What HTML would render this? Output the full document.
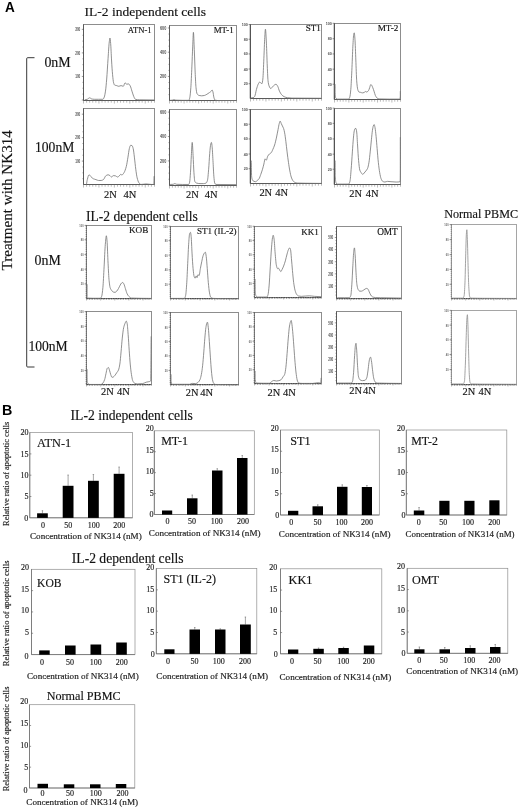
<!DOCTYPE html>
<html><head><meta charset="utf-8"><title>Figure</title>
<style>html,body{margin:0;padding:0;background:#fff}svg{display:block}</style></head>
<body>
<svg width="520" height="809" viewBox="0 0 520 809">
<rect width="520" height="809" fill="#fff"/>
<g font-family='"Liberation Serif", serif' stroke="#222" stroke-width="0.16">
<g id="partA">
<rect x="83.50" y="24.50" width="71.00" height="76.00" fill="#fff" stroke="#828282" stroke-width="0.9"/>
<path d="M83.50,24.50V100.50" stroke="#555" stroke-width="0.9" fill="none"/>
<path d="M81.80,29.37h1.70M82.50,35.25h1.00M82.50,41.13h1.00M82.50,47.02h1.00M81.80,52.90h1.70M82.50,58.79h1.00M82.50,64.67h1.00M82.50,70.56h1.00M81.80,76.44h1.70M82.50,82.33h1.00M82.50,88.21h1.00M82.50,94.10h1.00M81.80,99.98h1.70" stroke="#484848" stroke-width="0.55" fill="none"/>
<path d="M83.50,100.50H154.50" stroke="#555" stroke-width="0.9" fill="none"/>
<path d="M83.50,100.50v3.00M86.59,100.50v2.20M89.67,100.50v2.20M92.76,100.50v2.20M95.85,100.50v2.20M98.93,100.50v3.00M102.02,100.50v2.20M105.11,100.50v2.20M108.20,100.50v2.20M111.28,100.50v2.20M114.37,100.50v3.00M117.46,100.50v2.20M120.54,100.50v2.20M123.63,100.50v2.20M126.72,100.50v2.20M129.80,100.50v3.00M132.89,100.50v2.20M135.98,100.50v2.20M139.07,100.50v2.20M142.15,100.50v2.20M145.24,100.50v3.00M148.33,100.50v2.20M151.41,100.50v2.20M154.50,100.50v2.20" stroke="#666" stroke-width="0.45" fill="none"/>
<path d="M84.71,99.81 C85.58,99.63 86.44,99.58 87.31,99.29 C87.77,99.13 88.23,98.50 88.69,98.25 C89.10,98.03 89.50,97.73 89.90,97.73 C90.31,97.73 90.71,98.64 91.12,98.77 C92.15,99.09 93.19,99.29 94.23,99.29 C95.67,99.29 97.12,99.29 98.56,99.29 C100.00,99.29 101.44,99.29 102.88,99.29 C103.35,99.29 103.81,98.18 104.27,97.04 C104.67,96.04 105.08,93.79 105.48,91.15 C105.88,88.51 106.29,83.86 106.69,79.04 C107.15,73.52 107.62,64.84 108.08,58.27 C108.48,52.52 108.88,44.87 109.29,41.83 C109.52,40.09 109.75,38.02 109.98,38.02 C110.21,38.02 110.44,41.00 110.67,43.56 C110.96,46.76 111.25,55.30 111.54,60.00 C111.88,65.64 112.23,71.22 112.58,74.71 C112.92,78.20 113.27,81.67 113.62,82.85 C113.96,84.02 114.31,84.93 114.65,85.10 C115.35,85.44 116.04,85.42 116.73,85.62 C117.42,85.81 118.12,86.31 118.81,86.31 C119.56,86.31 120.31,85.62 121.06,85.62 C121.81,85.62 122.56,86.31 123.31,86.31 C123.88,86.31 124.46,82.85 125.04,82.85 C125.62,82.85 126.19,84.23 126.77,84.23 C127.35,84.23 127.92,83.88 128.50,83.88 C129.08,83.88 129.65,84.97 130.23,85.96 C130.81,86.95 131.38,89.42 131.96,91.15 C132.54,92.88 133.12,95.09 133.69,96.35 C134.27,97.60 134.85,99.13 135.42,99.29 C136.69,99.65 137.96,99.78 139.23,99.81 C144.25,99.94 149.28,99.92 154.30,99.98" stroke="#747474" stroke-width="0.8" fill="none" stroke-linejoin="round"/>
<text x="80.30" y="31.17" font-size="5.0" text-anchor="end" font-family='"Liberation Sans", sans-serif' font-weight="bold" fill="#505050" stroke="none" textLength="5.10" lengthAdjust="spacingAndGlyphs">300</text>
<text x="80.30" y="54.88" font-size="5.0" text-anchor="end" font-family='"Liberation Sans", sans-serif' font-weight="bold" fill="#505050" stroke="none" textLength="5.10" lengthAdjust="spacingAndGlyphs">200</text>
<text x="80.30" y="78.24" font-size="5.0" text-anchor="end" font-family='"Liberation Sans", sans-serif' font-weight="bold" fill="#505050" stroke="none" textLength="5.10" lengthAdjust="spacingAndGlyphs">100</text>
<rect x="83.50" y="108.50" width="71.00" height="76.00" fill="#fff" stroke="#828282" stroke-width="0.9"/>
<path d="M83.50,108.50V184.50" stroke="#555" stroke-width="0.9" fill="none"/>
<path d="M81.80,114.19h1.70M82.50,120.06h1.00M82.50,125.92h1.00M82.50,131.78h1.00M81.80,137.64h1.70M82.50,143.51h1.00M82.50,149.37h1.00M82.50,155.23h1.00M81.80,161.10h1.70M82.50,166.96h1.00M82.50,172.82h1.00M82.50,178.69h1.00" stroke="#484848" stroke-width="0.55" fill="none"/>
<path d="M83.50,184.50H154.50" stroke="#555" stroke-width="0.9" fill="none"/>
<path d="M83.50,184.50v3.00M86.59,184.50v2.20M89.67,184.50v2.20M92.76,184.50v2.20M95.85,184.50v2.20M98.93,184.50v3.00M102.02,184.50v2.20M105.11,184.50v2.20M108.20,184.50v2.20M111.28,184.50v2.20M114.37,184.50v3.00M117.46,184.50v2.20M120.54,184.50v2.20M123.63,184.50v2.20M126.72,184.50v2.20M129.80,184.50v3.00M132.89,184.50v2.20M135.98,184.50v2.20M139.07,184.50v2.20M142.15,184.50v2.20M145.24,184.50v3.00M148.33,184.50v2.20M151.41,184.50v2.20M154.50,184.50v2.20" stroke="#666" stroke-width="0.45" fill="none"/>
<path d="M86.44,184.46 C86.73,182.85 87.02,180.73 87.31,179.62 C87.88,177.38 88.46,174.77 89.04,174.77 C89.62,174.77 90.19,175.96 90.77,176.50 C91.63,177.31 92.50,178.33 93.37,178.75 C94.23,179.17 95.10,179.33 95.96,179.62 C96.83,179.90 97.69,180.48 98.56,180.48 C99.42,180.48 100.29,180.48 101.15,180.48 C102.02,180.48 102.88,179.94 103.75,179.27 C104.33,178.82 104.90,176.65 105.48,176.15 C106.35,175.42 107.21,174.77 108.08,174.77 C108.77,174.77 109.46,175.36 110.15,175.81 C110.62,176.11 111.08,177.02 111.54,177.02 C112.12,177.02 112.69,175.63 113.27,175.63 C113.96,175.63 114.65,175.71 115.35,175.81 C116.10,175.91 116.85,177.02 117.60,177.02 C118.17,177.02 118.75,176.32 119.33,175.81 C119.73,175.45 120.13,174.42 120.54,174.42 C121.00,174.42 121.46,174.94 121.92,174.94 C122.62,174.94 123.31,173.76 124.00,172.69 C124.75,171.54 125.50,169.39 126.25,166.63 C126.83,164.52 127.40,160.50 127.98,157.12 C128.44,154.41 128.90,150.13 129.37,148.46 C129.77,147.00 130.17,145.35 130.58,145.35 C131.04,145.35 131.50,145.41 131.96,145.52 C132.37,145.62 132.77,147.00 133.17,148.46 C133.58,149.93 133.98,153.95 134.38,157.12 C134.85,160.74 135.31,165.87 135.77,169.23 C136.23,172.60 136.69,176.07 137.15,177.88 C137.73,180.15 138.31,181.98 138.88,182.73 C139.58,183.63 140.27,184.46 140.96,184.46 C142.69,184.46 144.42,183.94 146.15,183.94 C147.88,183.94 149.62,184.46 151.35,184.46 C152.21,184.46 153.08,184.46 153.94,184.46 C154.06,184.46 154.17,176.15 154.29,176.15 C154.29,176.15 154.30,181.69 154.30,184.46" stroke="#747474" stroke-width="0.8" fill="none" stroke-linejoin="round"/>
<text x="80.30" y="115.99" font-size="5.0" text-anchor="end" font-family='"Liberation Sans", sans-serif' font-weight="bold" fill="#505050" stroke="none" textLength="5.10" lengthAdjust="spacingAndGlyphs">300</text>
<text x="80.30" y="139.36" font-size="5.0" text-anchor="end" font-family='"Liberation Sans", sans-serif' font-weight="bold" fill="#505050" stroke="none" textLength="5.10" lengthAdjust="spacingAndGlyphs">200</text>
<text x="80.30" y="162.90" font-size="5.0" text-anchor="end" font-family='"Liberation Sans", sans-serif' font-weight="bold" fill="#505050" stroke="none" textLength="5.10" lengthAdjust="spacingAndGlyphs">100</text>
<rect x="169.50" y="25.50" width="67.00" height="75.00" fill="#fff" stroke="#828282" stroke-width="0.9"/>
<path d="M169.50,25.50V100.50" stroke="#555" stroke-width="0.9" fill="none"/>
<path d="M167.80,27.98h1.70M168.50,34.04h1.00M168.50,40.10h1.00M168.50,46.15h1.00M167.80,52.21h1.70M168.50,58.27h1.00M168.50,64.33h1.00M168.50,70.38h1.00M167.80,76.44h1.70M168.50,82.50h1.00M168.50,88.56h1.00M168.50,94.62h1.00" stroke="#484848" stroke-width="0.55" fill="none"/>
<path d="M169.50,100.50H236.50" stroke="#555" stroke-width="0.9" fill="none"/>
<path d="M169.50,100.50v3.00M172.41,100.50v2.20M175.33,100.50v2.20M178.24,100.50v2.20M181.15,100.50v2.20M184.07,100.50v3.00M186.98,100.50v2.20M189.89,100.50v2.20M192.80,100.50v2.20M195.72,100.50v2.20M198.63,100.50v3.00M201.54,100.50v2.20M204.46,100.50v2.20M207.37,100.50v2.20M210.28,100.50v2.20M213.20,100.50v3.00M216.11,100.50v2.20M219.02,100.50v2.20M221.93,100.50v2.20M224.85,100.50v2.20M227.76,100.50v3.00M230.67,100.50v2.20M233.59,100.50v2.20M236.50,100.50v2.20" stroke="#666" stroke-width="0.45" fill="none"/>
<path d="M170.10,100.33 C170.84,100.27 171.57,100.25 172.31,100.15 C172.88,100.08 173.46,99.63 174.04,99.63 C174.62,99.63 175.19,100.12 175.77,100.15 C178.08,100.28 180.38,100.33 182.69,100.33 C184.71,100.33 186.73,100.33 188.75,100.33 C189.10,100.33 189.44,99.11 189.79,97.73 C190.13,96.36 190.48,92.20 190.83,87.69 C191.17,83.18 191.52,74.50 191.87,66.92 C192.15,60.61 192.44,52.43 192.73,46.15 C192.96,41.14 193.19,32.31 193.42,32.31 C193.71,32.31 194.00,43.09 194.29,49.62 C194.58,56.14 194.87,65.98 195.15,72.12 C195.44,78.25 195.73,85.11 196.02,87.69 C196.37,90.79 196.71,93.20 197.06,93.75 C197.75,94.85 198.44,95.32 199.13,95.48 C200.00,95.69 200.87,95.83 201.73,95.83 C202.60,95.83 203.46,95.66 204.33,95.48 C205.19,95.30 206.06,94.74 206.92,94.27 C207.79,93.79 208.65,93.17 209.52,92.54 C210.10,92.12 210.67,91.76 211.25,91.15 C211.54,90.85 211.83,89.94 212.12,89.94 C212.40,89.94 212.69,91.03 212.98,92.02 C213.27,93.01 213.56,96.19 213.85,97.21 C214.25,98.64 214.65,100.03 215.06,100.15 C215.81,100.39 216.56,100.50 217.31,100.50 C223.54,100.50 229.77,100.50 236.00,100.50" stroke="#747474" stroke-width="0.8" fill="none" stroke-linejoin="round"/>
<text x="166.30" y="29.78" font-size="5.0" text-anchor="end" font-family='"Liberation Sans", sans-serif' font-weight="bold" fill="#505050" stroke="none" textLength="6.30" lengthAdjust="spacingAndGlyphs">600</text>
<text x="166.30" y="54.01" font-size="5.0" text-anchor="end" font-family='"Liberation Sans", sans-serif' font-weight="bold" fill="#505050" stroke="none" textLength="6.30" lengthAdjust="spacingAndGlyphs">400</text>
<text x="166.30" y="78.24" font-size="5.0" text-anchor="end" font-family='"Liberation Sans", sans-serif' font-weight="bold" fill="#505050" stroke="none" textLength="6.30" lengthAdjust="spacingAndGlyphs">200</text>
<rect x="169.50" y="109.50" width="67.00" height="76.00" fill="#fff" stroke="#828282" stroke-width="0.9"/>
<path d="M169.50,109.50V185.50" stroke="#555" stroke-width="0.9" fill="none"/>
<path d="M167.80,112.12h1.70M168.50,118.22h1.00M168.50,124.32h1.00M168.50,130.42h1.00M167.80,136.52h1.70M168.50,142.62h1.00M168.50,148.72h1.00M168.50,154.82h1.00M167.80,160.92h1.70M168.50,167.02h1.00M168.50,173.13h1.00M168.50,179.23h1.00" stroke="#484848" stroke-width="0.55" fill="none"/>
<path d="M169.50,185.50H236.50" stroke="#555" stroke-width="0.9" fill="none"/>
<path d="M169.50,185.50v3.00M172.41,185.50v2.20M175.33,185.50v2.20M178.24,185.50v2.20M181.15,185.50v2.20M184.07,185.50v3.00M186.98,185.50v2.20M189.89,185.50v2.20M192.80,185.50v2.20M195.72,185.50v2.20M198.63,185.50v3.00M201.54,185.50v2.20M204.46,185.50v2.20M207.37,185.50v2.20M210.28,185.50v2.20M213.20,185.50v3.00M216.11,185.50v2.20M219.02,185.50v2.20M221.93,185.50v2.20M224.85,185.50v2.20M227.76,185.50v3.00M230.67,185.50v2.20M233.59,185.50v2.20M236.50,185.50v2.20" stroke="#666" stroke-width="0.45" fill="none"/>
<path d="M170.10,184.46 C171.12,184.40 172.15,184.40 173.17,184.29 C173.75,184.23 174.33,183.60 174.90,183.60 C175.48,183.60 176.06,184.25 176.63,184.29 C178.65,184.42 180.67,184.46 182.69,184.46 C184.71,184.46 186.73,184.46 188.75,184.46 C189.04,184.46 189.33,183.42 189.62,182.21 C189.90,181.00 190.19,176.79 190.48,172.69 C190.77,168.60 191.06,160.33 191.35,155.38 C191.63,150.44 191.92,142.40 192.21,142.40 C192.50,142.40 192.79,150.44 193.08,155.38 C193.37,160.33 193.65,168.85 193.94,172.69 C194.23,176.54 194.52,180.77 194.81,181.35 C195.38,182.50 195.96,182.91 196.54,183.08 C197.69,183.40 198.85,183.60 200.00,183.60 C201.15,183.60 202.31,183.60 203.46,183.60 C204.33,183.60 205.19,183.42 206.06,183.08 C206.52,182.90 206.98,181.94 207.44,180.48 C207.85,179.20 208.25,173.89 208.65,169.23 C209.00,165.24 209.35,157.59 209.69,153.65 C210.04,149.71 210.38,145.44 210.73,144.13 C210.96,143.26 211.19,142.40 211.42,142.40 C211.65,142.40 211.88,144.69 212.12,146.73 C212.40,149.28 212.69,155.69 212.98,160.58 C213.27,165.46 213.56,172.96 213.85,176.15 C214.13,179.35 214.42,182.47 214.71,183.08 C215.12,183.92 215.52,184.45 215.92,184.46 C222.72,184.62 229.51,184.58 236.30,184.63" stroke="#747474" stroke-width="0.8" fill="none" stroke-linejoin="round"/>
<text x="166.30" y="113.92" font-size="5.0" text-anchor="end" font-family='"Liberation Sans", sans-serif' font-weight="bold" fill="#505050" stroke="none" textLength="6.30" lengthAdjust="spacingAndGlyphs">600</text>
<text x="166.30" y="138.49" font-size="5.0" text-anchor="end" font-family='"Liberation Sans", sans-serif' font-weight="bold" fill="#505050" stroke="none" textLength="6.30" lengthAdjust="spacingAndGlyphs">400</text>
<text x="166.30" y="162.72" font-size="5.0" text-anchor="end" font-family='"Liberation Sans", sans-serif' font-weight="bold" fill="#505050" stroke="none" textLength="6.30" lengthAdjust="spacingAndGlyphs">200</text>
<rect x="250.50" y="24.50" width="71.00" height="74.00" fill="#fff" stroke="#828282" stroke-width="0.9"/>
<path d="M250.30,24.50V98.50" stroke="#484848" stroke-width="1.1" fill="none"/>
<path d="M248.60,24.52h1.9M248.60,39.23h1.9M248.60,53.94h1.9M248.60,69.00h1.9M248.60,83.71h1.9" stroke="#484848" stroke-width="0.6" fill="none"/>
<path d="M250.50,98.50H321.50" stroke="#555" stroke-width="0.9" fill="none"/>
<path d="M250.50,98.50v3.00M253.59,98.50v2.20M256.67,98.50v2.20M259.76,98.50v2.20M262.85,98.50v2.20M265.93,98.50v3.00M269.02,98.50v2.20M272.11,98.50v2.20M275.20,98.50v2.20M278.28,98.50v2.20M281.37,98.50v3.00M284.46,98.50v2.20M287.54,98.50v2.20M290.63,98.50v2.20M293.72,98.50v2.20M296.80,98.50v3.00M299.89,98.50v2.20M302.98,98.50v2.20M306.07,98.50v2.20M309.15,98.50v2.20M312.24,98.50v3.00M315.33,98.50v2.20M318.41,98.50v2.20M321.50,98.50v2.20" stroke="#666" stroke-width="0.45" fill="none"/>
<path d="M251.25,97.73 C251.83,97.73 252.40,97.73 252.98,97.73 C253.56,97.73 254.13,97.12 254.71,96.35 C255.29,95.58 255.87,91.40 256.44,89.42 C257.02,87.45 257.60,85.37 258.17,84.23 C258.63,83.32 259.10,82.15 259.56,82.15 C259.96,82.15 260.37,82.59 260.77,82.85 C261.17,83.10 261.58,83.71 261.98,83.71 C262.27,83.71 262.56,81.45 262.85,79.04 C263.19,76.15 263.54,65.84 263.88,58.27 C264.17,51.96 264.46,42.06 264.75,37.50 C264.98,33.85 265.21,29.19 265.44,29.19 C265.73,29.19 266.02,35.81 266.31,40.96 C266.60,46.11 266.88,56.94 267.17,63.46 C267.46,69.98 267.75,78.42 268.04,80.77 C268.38,83.59 268.73,85.13 269.08,85.96 C269.65,87.36 270.23,88.56 270.81,88.56 C271.38,88.56 271.96,87.40 272.54,86.83 C273.12,86.25 273.69,85.48 274.27,85.10 C274.85,84.71 275.42,84.23 276.00,84.23 C276.58,84.23 277.15,85.34 277.73,86.31 C278.31,87.28 278.88,89.94 279.46,91.15 C280.15,92.61 280.85,93.86 281.54,94.62 C282.40,95.56 283.27,96.31 284.13,96.69 C285.29,97.21 286.44,97.58 287.60,97.73 C289.04,97.92 290.48,98.06 291.92,98.08 C301.62,98.21 311.31,98.19 321.00,98.25" stroke="#747474" stroke-width="0.8" fill="none" stroke-linejoin="round"/>
<text x="247.90" y="26.07" font-size="4.3" text-anchor="end" font-family='"Liberation Sans", sans-serif' font-weight="bold" fill="#505050" stroke="none" textLength="6.15" lengthAdjust="spacingAndGlyphs">100</text>
<text x="247.90" y="40.78" font-size="4.3" text-anchor="end" font-family='"Liberation Sans", sans-serif' font-weight="bold" fill="#505050" stroke="none" textLength="4.10" lengthAdjust="spacingAndGlyphs">80</text>
<text x="247.90" y="55.49" font-size="4.3" text-anchor="end" font-family='"Liberation Sans", sans-serif' font-weight="bold" fill="#505050" stroke="none" textLength="4.10" lengthAdjust="spacingAndGlyphs">60</text>
<text x="247.90" y="70.55" font-size="4.3" text-anchor="end" font-family='"Liberation Sans", sans-serif' font-weight="bold" fill="#505050" stroke="none" textLength="4.10" lengthAdjust="spacingAndGlyphs">40</text>
<text x="247.90" y="85.26" font-size="4.3" text-anchor="end" font-family='"Liberation Sans", sans-serif' font-weight="bold" fill="#505050" stroke="none" textLength="4.10" lengthAdjust="spacingAndGlyphs">20</text>
<rect x="250.50" y="109.50" width="71.00" height="74.00" fill="#fff" stroke="#828282" stroke-width="0.9"/>
<path d="M250.30,109.50V183.50" stroke="#484848" stroke-width="1.1" fill="none"/>
<path d="M248.60,109.52h1.9M248.60,124.23h1.9M248.60,138.94h1.9M248.60,154.00h1.9M248.60,168.71h1.9" stroke="#484848" stroke-width="0.6" fill="none"/>
<path d="M250.50,183.50H321.50" stroke="#555" stroke-width="0.9" fill="none"/>
<path d="M250.50,183.50v3.00M253.59,183.50v2.20M256.67,183.50v2.20M259.76,183.50v2.20M262.85,183.50v2.20M265.93,183.50v3.00M269.02,183.50v2.20M272.11,183.50v2.20M275.20,183.50v2.20M278.28,183.50v2.20M281.37,183.50v3.00M284.46,183.50v2.20M287.54,183.50v2.20M290.63,183.50v2.20M293.72,183.50v2.20M296.80,183.50v3.00M299.89,183.50v2.20M302.98,183.50v2.20M306.07,183.50v2.20M309.15,183.50v2.20M312.24,183.50v3.00M315.33,183.50v2.20M318.41,183.50v2.20M321.50,183.50v2.20" stroke="#666" stroke-width="0.45" fill="none"/>
<path d="M251.25,160.58 C251.37,165.77 251.48,175.11 251.60,176.15 C251.88,178.77 252.17,179.47 252.46,179.96 C252.92,180.75 253.38,181.19 253.85,181.35 C254.42,181.54 255.00,181.69 255.58,181.69 C256.15,181.69 256.73,180.96 257.31,180.48 C257.88,180.01 258.46,179.57 259.04,178.75 C259.62,177.93 260.19,176.00 260.77,174.42 C261.35,172.85 261.92,171.16 262.50,169.23 C262.96,167.69 263.42,165.89 263.88,164.04 C264.29,162.42 264.69,158.85 265.10,158.85 C265.50,158.85 265.90,160.23 266.31,160.23 C266.77,160.23 267.23,157.09 267.69,156.25 C268.27,155.20 268.85,154.53 269.42,154.00 C270.00,153.47 270.58,153.39 271.15,152.79 C271.73,152.19 272.31,150.61 272.88,149.33 C273.46,148.04 274.04,146.78 274.62,145.00 C275.19,143.22 275.77,140.64 276.35,138.08 C276.92,135.51 277.50,132.31 278.08,129.42 C278.48,127.40 278.88,124.72 279.29,123.37 C279.58,122.40 279.87,121.12 280.15,121.12 C280.50,121.12 280.85,122.62 281.19,123.37 C281.60,124.24 282.00,125.10 282.40,125.96 C282.81,126.83 283.21,127.41 283.62,128.56 C283.96,129.55 284.31,131.07 284.65,132.88 C285.06,135.00 285.46,138.39 285.87,141.54 C286.27,144.69 286.67,148.69 287.08,151.92 C287.54,155.62 288.00,159.16 288.46,162.31 C288.92,165.45 289.38,168.59 289.85,170.96 C290.31,173.34 290.77,175.65 291.23,177.02 C291.75,178.56 292.27,179.76 292.79,180.48 C293.37,181.28 293.94,181.91 294.52,182.21 C295.38,182.66 296.25,183.04 297.12,183.08 C300.00,183.21 302.88,183.21 305.77,183.25 C310.95,183.33 316.12,183.37 321.30,183.42" stroke="#747474" stroke-width="0.8" fill="none" stroke-linejoin="round"/>
<text x="247.90" y="111.07" font-size="4.3" text-anchor="end" font-family='"Liberation Sans", sans-serif' font-weight="bold" fill="#505050" stroke="none" textLength="6.15" lengthAdjust="spacingAndGlyphs">100</text>
<text x="247.90" y="125.78" font-size="4.3" text-anchor="end" font-family='"Liberation Sans", sans-serif' font-weight="bold" fill="#505050" stroke="none" textLength="4.10" lengthAdjust="spacingAndGlyphs">80</text>
<text x="247.90" y="140.49" font-size="4.3" text-anchor="end" font-family='"Liberation Sans", sans-serif' font-weight="bold" fill="#505050" stroke="none" textLength="4.10" lengthAdjust="spacingAndGlyphs">60</text>
<text x="247.90" y="155.55" font-size="4.3" text-anchor="end" font-family='"Liberation Sans", sans-serif' font-weight="bold" fill="#505050" stroke="none" textLength="4.10" lengthAdjust="spacingAndGlyphs">40</text>
<text x="247.90" y="170.26" font-size="4.3" text-anchor="end" font-family='"Liberation Sans", sans-serif' font-weight="bold" fill="#505050" stroke="none" textLength="4.10" lengthAdjust="spacingAndGlyphs">20</text>
<rect x="334.50" y="23.50" width="66.00" height="76.00" fill="#fff" stroke="#828282" stroke-width="0.9"/>
<path d="M334.30,23.50V99.50" stroke="#484848" stroke-width="1.1" fill="none"/>
<path d="M332.60,23.31h1.9M332.60,38.71h1.9M332.60,53.94h1.9M332.60,69.17h1.9M332.60,84.23h1.9" stroke="#484848" stroke-width="0.6" fill="none"/>
<path d="M334.50,99.50H400.50" stroke="#555" stroke-width="0.9" fill="none"/>
<path d="M334.50,99.50v3.00M337.37,99.50v2.20M340.24,99.50v2.20M343.11,99.50v2.20M345.98,99.50v2.20M348.85,99.50v3.00M351.72,99.50v2.20M354.59,99.50v2.20M357.46,99.50v2.20M360.33,99.50v2.20M363.20,99.50v3.00M366.07,99.50v2.20M368.93,99.50v2.20M371.80,99.50v2.20M374.67,99.50v2.20M377.54,99.50v3.00M380.41,99.50v2.20M383.28,99.50v2.20M386.15,99.50v2.20M389.02,99.50v2.20M391.89,99.50v3.00M394.76,99.50v2.20M397.63,99.50v2.20M400.50,99.50v2.20" stroke="#666" stroke-width="0.45" fill="none"/>
<path d="M335.10,84.23 C335.10,87.12 335.11,92.82 335.11,92.88 C335.38,97.94 335.65,97.69 335.92,98.08 C336.38,98.74 336.85,99.12 337.31,99.12 C339.04,99.12 340.77,99.12 342.50,99.12 C344.52,99.12 346.54,99.12 348.56,99.12 C348.96,99.12 349.37,98.28 349.77,97.21 C350.12,96.30 350.46,93.11 350.81,89.42 C351.15,85.74 351.50,77.49 351.85,70.38 C352.19,63.28 352.54,52.17 352.88,46.15 C353.17,41.14 353.46,35.13 353.75,34.04 C353.92,33.39 354.10,32.83 354.27,32.83 C354.50,32.83 354.73,36.20 354.96,39.23 C355.25,43.02 355.54,53.08 355.83,60.00 C356.12,66.92 356.40,77.15 356.69,80.77 C357.04,85.12 357.38,88.22 357.73,89.42 C358.13,90.82 358.54,91.86 358.94,92.02 C359.52,92.24 360.10,92.23 360.67,92.37 C361.25,92.50 361.83,92.88 362.40,92.88 C362.98,92.88 363.56,92.73 364.13,92.54 C364.54,92.40 364.94,91.50 365.35,91.50 C365.81,91.50 366.27,92.02 366.73,92.02 C367.31,92.02 367.88,91.35 368.46,90.63 C368.87,90.13 369.27,88.78 369.67,87.69 C370.02,86.76 370.37,84.58 370.71,84.58 C371.00,84.58 371.29,84.83 371.58,85.10 C371.98,85.46 372.38,86.70 372.79,87.69 C373.19,88.68 373.60,89.95 374.00,91.15 C374.46,92.53 374.92,94.53 375.38,95.48 C375.96,96.67 376.54,97.75 377.12,98.08 C377.98,98.57 378.85,98.91 379.71,98.94 C382.88,99.07 386.06,99.12 389.23,99.12 C392.69,99.12 396.15,99.12 399.62,99.12 C399.84,99.12 400.07,99.04 400.30,96.35 C400.30,96.31 400.31,92.88 400.31,91.15" stroke="#747474" stroke-width="0.8" fill="none" stroke-linejoin="round"/>
<text x="331.90" y="24.86" font-size="4.3" text-anchor="end" font-family='"Liberation Sans", sans-serif' font-weight="bold" fill="#505050" stroke="none" textLength="6.15" lengthAdjust="spacingAndGlyphs">100</text>
<text x="331.90" y="40.26" font-size="4.3" text-anchor="end" font-family='"Liberation Sans", sans-serif' font-weight="bold" fill="#505050" stroke="none" textLength="4.10" lengthAdjust="spacingAndGlyphs">80</text>
<text x="331.90" y="55.49" font-size="4.3" text-anchor="end" font-family='"Liberation Sans", sans-serif' font-weight="bold" fill="#505050" stroke="none" textLength="4.10" lengthAdjust="spacingAndGlyphs">60</text>
<text x="331.90" y="70.72" font-size="4.3" text-anchor="end" font-family='"Liberation Sans", sans-serif' font-weight="bold" fill="#505050" stroke="none" textLength="4.10" lengthAdjust="spacingAndGlyphs">40</text>
<text x="331.90" y="85.78" font-size="4.3" text-anchor="end" font-family='"Liberation Sans", sans-serif' font-weight="bold" fill="#505050" stroke="none" textLength="4.10" lengthAdjust="spacingAndGlyphs">20</text>
<rect x="334.50" y="108.50" width="66.00" height="76.00" fill="#fff" stroke="#828282" stroke-width="0.9"/>
<path d="M334.30,108.50V184.50" stroke="#484848" stroke-width="1.1" fill="none"/>
<path d="M332.60,108.13h1.9M332.60,123.37h1.9M332.60,138.94h1.9M332.60,154.17h1.9M332.60,169.23h1.9" stroke="#484848" stroke-width="0.6" fill="none"/>
<path d="M334.50,184.50H400.50" stroke="#555" stroke-width="0.9" fill="none"/>
<path d="M334.50,184.50v3.00M337.37,184.50v2.20M340.24,184.50v2.20M343.11,184.50v2.20M345.98,184.50v2.20M348.85,184.50v3.00M351.72,184.50v2.20M354.59,184.50v2.20M357.46,184.50v2.20M360.33,184.50v2.20M363.20,184.50v3.00M366.07,184.50v2.20M368.93,184.50v2.20M371.80,184.50v2.20M374.67,184.50v2.20M377.54,184.50v3.00M380.41,184.50v2.20M383.28,184.50v2.20M386.15,184.50v2.20M389.02,184.50v2.20M391.89,184.50v3.00M394.76,184.50v2.20M397.63,184.50v2.20M400.50,184.50v2.20" stroke="#666" stroke-width="0.45" fill="none"/>
<path d="M335.10,160.58 C335.14,165.77 335.19,175.36 335.23,176.15 C335.52,181.41 335.81,182.13 336.10,182.73 C336.50,183.57 336.90,184.12 337.31,184.12 C339.04,184.12 340.77,184.12 342.50,184.12 C344.52,184.12 346.54,184.12 348.56,184.12 C349.02,184.12 349.48,182.91 349.94,181.35 C350.35,179.98 350.75,173.98 351.15,169.23 C351.56,164.48 351.96,157.49 352.37,151.92 C352.71,147.15 353.06,141.62 353.40,138.08 C353.69,135.12 353.98,131.95 354.27,130.81 C354.56,129.66 354.85,128.56 355.13,128.56 C355.42,128.56 355.71,128.56 356.00,128.56 C356.23,128.56 356.46,130.32 356.69,132.02 C356.98,134.14 357.27,140.67 357.56,145.00 C357.90,150.19 358.25,156.98 358.60,160.58 C359.00,164.78 359.40,168.86 359.81,170.10 C360.27,171.51 360.73,172.05 361.19,172.69 C361.71,173.42 362.23,174.42 362.75,174.42 C363.21,174.42 363.67,173.54 364.13,173.04 C364.71,172.41 365.29,171.73 365.87,170.96 C366.44,170.19 367.02,169.68 367.60,168.37 C368.06,167.32 368.52,165.00 368.98,162.31 C369.38,159.95 369.79,155.65 370.19,151.92 C370.60,148.20 371.00,143.67 371.40,139.81 C371.75,136.50 372.10,132.51 372.44,130.29 C372.73,128.44 373.02,126.66 373.31,125.96 C373.60,125.26 373.88,124.58 374.17,124.58 C374.46,124.58 374.75,126.26 375.04,127.69 C375.38,129.41 375.73,132.98 376.08,136.35 C376.42,139.71 376.77,144.46 377.12,148.46 C377.52,153.13 377.92,158.63 378.33,162.31 C378.79,166.51 379.25,170.14 379.71,172.69 C380.17,175.24 380.63,177.63 381.10,178.75 C381.62,180.01 382.13,181.06 382.65,181.35 C383.40,181.75 384.15,182.04 384.90,182.04 C385.77,182.04 386.63,181.35 387.50,181.35 C388.65,181.35 389.81,181.60 390.96,181.69 C392.69,181.83 394.42,182.04 396.15,182.04 C397.48,182.04 398.81,182.02 400.13,181.69 C400.19,181.68 400.24,180.53 400.30,169.23 C400.30,168.55 400.31,147.88 400.31,137.21" stroke="#747474" stroke-width="0.8" fill="none" stroke-linejoin="round"/>
<text x="331.90" y="109.68" font-size="4.3" text-anchor="end" font-family='"Liberation Sans", sans-serif' font-weight="bold" fill="#505050" stroke="none" textLength="6.15" lengthAdjust="spacingAndGlyphs">100</text>
<text x="331.90" y="124.91" font-size="4.3" text-anchor="end" font-family='"Liberation Sans", sans-serif' font-weight="bold" fill="#505050" stroke="none" textLength="4.10" lengthAdjust="spacingAndGlyphs">80</text>
<text x="331.90" y="140.49" font-size="4.3" text-anchor="end" font-family='"Liberation Sans", sans-serif' font-weight="bold" fill="#505050" stroke="none" textLength="4.10" lengthAdjust="spacingAndGlyphs">60</text>
<text x="331.90" y="155.72" font-size="4.3" text-anchor="end" font-family='"Liberation Sans", sans-serif' font-weight="bold" fill="#505050" stroke="none" textLength="4.10" lengthAdjust="spacingAndGlyphs">40</text>
<text x="331.90" y="170.78" font-size="4.3" text-anchor="end" font-family='"Liberation Sans", sans-serif' font-weight="bold" fill="#505050" stroke="none" textLength="4.10" lengthAdjust="spacingAndGlyphs">20</text>
<rect x="86.50" y="225.50" width="65.00" height="73.00" fill="#fff" stroke="#828282" stroke-width="0.9"/>
<path d="M86.30,225.50V298.50" stroke="#5e5e5e" stroke-width="1.1" stroke-dasharray="1.35 0.75" fill="none"/>
<path d="M84.60,225.38h1.9M84.60,239.75h1.9M84.60,254.46h1.9M84.60,269.17h1.9M84.60,283.88h1.9" stroke="#484848" stroke-width="0.6" fill="none"/>
<path d="M86.50,298.65H151.50" stroke="#4c4c4c" stroke-width="1.15" stroke-dasharray="1.7 0.7" fill="none"/>
<path d="M86.50,298.50v2.00M89.33,298.50v1.30M92.15,298.50v1.30M94.98,298.50v1.30M97.80,298.50v1.30M100.63,298.50v2.00M103.46,298.50v1.30M106.28,298.50v1.30M109.11,298.50v1.30M111.93,298.50v1.30M114.76,298.50v2.00M117.59,298.50v1.30M120.41,298.50v1.30M123.24,298.50v1.30M126.07,298.50v1.30M128.89,298.50v2.00M131.72,298.50v1.30M134.54,298.50v1.30M137.37,298.50v1.30M140.20,298.50v1.30M143.02,298.50v2.00M145.85,298.50v1.30M148.67,298.50v1.30M151.50,298.50v1.30" stroke="#666" stroke-width="0.45" fill="none"/>
<path d="M87.10,284.23 C87.10,288.27 87.11,296.26 87.11,296.35 C87.18,297.98 87.24,298.07 87.31,298.08 C89.04,298.24 90.77,298.25 92.50,298.25 C95.10,298.25 97.69,298.25 100.29,298.25 C100.75,298.25 101.21,297.43 101.67,296.35 C102.08,295.40 102.48,291.76 102.88,287.69 C103.29,283.62 103.69,274.12 104.10,266.92 C104.50,259.72 104.90,249.02 105.31,244.42 C105.65,240.48 106.00,235.77 106.35,235.77 C106.58,235.77 106.81,238.47 107.04,240.96 C107.38,244.70 107.73,256.94 108.08,263.46 C108.42,269.98 108.77,277.47 109.12,280.77 C109.46,284.07 109.81,286.65 110.15,287.69 C110.62,289.08 111.08,289.68 111.54,290.29 C112.12,291.05 112.69,291.83 113.27,292.02 C113.85,292.21 114.42,292.37 115.00,292.37 C115.58,292.37 116.15,291.70 116.73,291.15 C117.31,290.60 117.88,289.55 118.46,288.56 C119.04,287.57 119.62,286.08 120.19,285.10 C120.65,284.31 121.12,283.32 121.58,283.02 C121.98,282.75 122.38,282.50 122.79,282.50 C123.19,282.50 123.60,283.45 124.00,284.23 C124.46,285.13 124.92,287.14 125.38,288.56 C125.96,290.33 126.54,292.60 127.12,293.75 C127.69,294.90 128.27,295.80 128.85,296.35 C129.71,297.17 130.58,298.04 131.44,298.08 C137.96,298.37 144.48,298.31 151.00,298.42" stroke="#747474" stroke-width="0.8" fill="none" stroke-linejoin="round"/>
<text x="83.60" y="226.79" font-size="3.9" text-anchor="end" font-family='"Liberation Sans", sans-serif' font-weight="bold" fill="#6c6c6c" stroke="none" textLength="4.35" lengthAdjust="spacingAndGlyphs">100</text>
<text x="83.60" y="241.15" font-size="3.9" text-anchor="end" font-family='"Liberation Sans", sans-serif' font-weight="bold" fill="#6c6c6c" stroke="none" textLength="2.90" lengthAdjust="spacingAndGlyphs">80</text>
<text x="83.60" y="255.87" font-size="3.9" text-anchor="end" font-family='"Liberation Sans", sans-serif' font-weight="bold" fill="#6c6c6c" stroke="none" textLength="2.90" lengthAdjust="spacingAndGlyphs">60</text>
<text x="83.60" y="270.58" font-size="3.9" text-anchor="end" font-family='"Liberation Sans", sans-serif' font-weight="bold" fill="#6c6c6c" stroke="none" textLength="2.90" lengthAdjust="spacingAndGlyphs">40</text>
<text x="83.60" y="285.29" font-size="3.9" text-anchor="end" font-family='"Liberation Sans", sans-serif' font-weight="bold" fill="#6c6c6c" stroke="none" textLength="2.90" lengthAdjust="spacingAndGlyphs">20</text>
<rect x="86.50" y="311.50" width="65.00" height="73.00" fill="#fff" stroke="#828282" stroke-width="0.9"/>
<path d="M86.30,311.50V384.50" stroke="#5e5e5e" stroke-width="1.1" stroke-dasharray="1.35 0.75" fill="none"/>
<path d="M84.60,311.60h1.9M84.60,326.31h1.9M84.60,341.02h1.9M84.60,355.73h1.9M84.60,370.44h1.9" stroke="#484848" stroke-width="0.6" fill="none"/>
<path d="M86.50,384.65H151.50" stroke="#4c4c4c" stroke-width="1.15" stroke-dasharray="1.7 0.7" fill="none"/>
<path d="M86.50,384.50v2.00M89.33,384.50v1.30M92.15,384.50v1.30M94.98,384.50v1.30M97.80,384.50v1.30M100.63,384.50v2.00M103.46,384.50v1.30M106.28,384.50v1.30M109.11,384.50v1.30M111.93,384.50v1.30M114.76,384.50v2.00M117.59,384.50v1.30M120.41,384.50v1.30M123.24,384.50v1.30M126.07,384.50v1.30M128.89,384.50v2.00M131.72,384.50v1.30M134.54,384.50v1.30M137.37,384.50v1.30M140.20,384.50v1.30M143.02,384.50v2.00M145.85,384.50v1.30M148.67,384.50v1.30M151.50,384.50v1.30" stroke="#666" stroke-width="0.45" fill="none"/>
<path d="M87.10,369.23 C87.10,372.12 87.11,377.80 87.11,377.88 C87.29,382.55 87.47,382.28 87.65,382.73 C88.12,383.87 88.58,384.46 89.04,384.46 C91.35,384.46 93.65,384.46 95.96,384.46 C97.69,384.46 99.42,384.46 101.15,384.46 C101.73,384.46 102.31,383.74 102.88,383.08 C103.46,382.42 104.04,381.22 104.62,379.62 C105.08,378.33 105.54,375.56 106.00,373.56 C106.40,371.81 106.81,368.86 107.21,368.37 C107.62,367.87 108.02,367.50 108.42,367.50 C108.77,367.50 109.12,369.08 109.46,370.10 C109.87,371.28 110.27,373.34 110.67,374.42 C111.13,375.66 111.60,377.37 112.06,377.37 C112.46,377.37 112.87,377.19 113.27,377.02 C113.85,376.77 114.42,375.98 115.00,375.29 C115.58,374.60 116.15,373.56 116.73,372.69 C117.31,371.83 117.88,371.41 118.46,370.10 C118.92,369.05 119.38,366.87 119.85,364.04 C120.25,361.56 120.65,356.23 121.06,351.92 C121.46,347.62 121.87,341.75 122.27,338.08 C122.73,333.88 123.19,329.73 123.65,327.69 C124.12,325.66 124.58,324.43 125.04,323.37 C125.44,322.43 125.85,321.12 126.25,321.12 C126.54,321.12 126.83,322.18 127.12,323.37 C127.46,324.79 127.81,330.26 128.15,334.62 C128.50,338.97 128.85,345.31 129.19,350.19 C129.54,355.08 129.88,360.41 130.23,364.04 C130.63,368.28 131.04,371.87 131.44,374.42 C131.85,376.97 132.25,379.52 132.65,380.48 C133.23,381.86 133.81,382.79 134.38,383.08 C135.42,383.60 136.46,383.94 137.50,383.94 C139.23,383.94 140.96,383.80 142.69,383.60 C143.85,383.46 145.00,382.51 146.15,382.21 C147.02,381.98 147.88,381.92 148.75,381.69 C149.38,381.53 150.02,381.57 150.65,381.00 C150.83,380.85 151.00,351.23 151.17,336.35" stroke="#747474" stroke-width="0.8" fill="none" stroke-linejoin="round"/>
<text x="83.60" y="313.00" font-size="3.9" text-anchor="end" font-family='"Liberation Sans", sans-serif' font-weight="bold" fill="#6c6c6c" stroke="none" textLength="4.35" lengthAdjust="spacingAndGlyphs">100</text>
<text x="83.60" y="327.71" font-size="3.9" text-anchor="end" font-family='"Liberation Sans", sans-serif' font-weight="bold" fill="#6c6c6c" stroke="none" textLength="2.90" lengthAdjust="spacingAndGlyphs">80</text>
<text x="83.60" y="342.42" font-size="3.9" text-anchor="end" font-family='"Liberation Sans", sans-serif' font-weight="bold" fill="#6c6c6c" stroke="none" textLength="2.90" lengthAdjust="spacingAndGlyphs">60</text>
<text x="83.60" y="357.13" font-size="3.9" text-anchor="end" font-family='"Liberation Sans", sans-serif' font-weight="bold" fill="#6c6c6c" stroke="none" textLength="2.90" lengthAdjust="spacingAndGlyphs">40</text>
<text x="83.60" y="371.85" font-size="3.9" text-anchor="end" font-family='"Liberation Sans", sans-serif' font-weight="bold" fill="#6c6c6c" stroke="none" textLength="2.90" lengthAdjust="spacingAndGlyphs">20</text>
<rect x="170.50" y="226.50" width="68.00" height="72.00" fill="#fff" stroke="#828282" stroke-width="0.9"/>
<path d="M170.30,226.50V298.50" stroke="#5e5e5e" stroke-width="1.1" stroke-dasharray="1.35 0.75" fill="none"/>
<path d="M168.60,226.25h1.9M168.60,240.62h1.9M168.60,255.15h1.9M168.60,269.87h1.9M168.60,284.23h1.9" stroke="#484848" stroke-width="0.6" fill="none"/>
<path d="M170.50,298.65H238.50" stroke="#4c4c4c" stroke-width="1.15" stroke-dasharray="1.7 0.7" fill="none"/>
<path d="M170.50,298.50v2.00M173.46,298.50v1.30M176.41,298.50v1.30M179.37,298.50v1.30M182.33,298.50v1.30M185.28,298.50v2.00M188.24,298.50v1.30M191.20,298.50v1.30M194.15,298.50v1.30M197.11,298.50v1.30M200.07,298.50v2.00M203.02,298.50v1.30M205.98,298.50v1.30M208.93,298.50v1.30M211.89,298.50v1.30M214.85,298.50v2.00M217.80,298.50v1.30M220.76,298.50v1.30M223.72,298.50v1.30M226.67,298.50v1.30M229.63,298.50v2.00M232.59,298.50v1.30M235.54,298.50v1.30M238.50,298.50v1.30" stroke="#666" stroke-width="0.45" fill="none"/>
<path d="M171.10,298.42 C173.23,298.42 175.37,298.42 177.50,298.42 C179.81,298.42 182.12,298.42 184.42,298.42 C184.83,298.42 185.23,297.11 185.63,295.48 C185.98,294.08 186.33,289.10 186.67,284.23 C187.02,279.37 187.37,270.38 187.71,263.46 C188.06,256.54 188.40,247.38 188.75,242.69 C189.04,238.78 189.33,234.49 189.62,233.69 C189.90,232.89 190.19,232.31 190.48,232.31 C190.71,232.31 190.94,234.50 191.17,236.63 C191.46,239.30 191.75,248.22 192.04,253.08 C192.38,258.90 192.73,265.19 193.08,268.65 C193.42,272.12 193.77,275.50 194.12,276.44 C194.46,277.39 194.81,278.17 195.15,278.17 C195.50,278.17 195.85,275.92 196.19,275.92 C196.48,275.92 196.77,277.65 197.06,277.65 C197.35,277.65 197.63,274.71 197.92,274.71 C198.33,274.71 198.73,275.58 199.13,275.58 C199.54,275.58 199.94,270.81 200.35,268.65 C200.81,266.19 201.27,263.88 201.73,261.73 C202.19,259.58 202.65,256.99 203.12,255.67 C203.52,254.52 203.92,253.56 204.33,253.08 C204.67,252.67 205.02,252.21 205.37,252.21 C205.65,252.21 205.94,254.54 206.23,256.54 C206.58,258.93 206.92,264.35 207.27,268.65 C207.62,272.96 207.96,278.87 208.31,282.50 C208.71,286.74 209.12,290.85 209.52,292.88 C209.92,294.92 210.33,296.80 210.73,297.21 C211.48,297.97 212.23,298.40 212.98,298.42 C221.23,298.73 229.48,298.65 237.73,298.77" stroke="#747474" stroke-width="0.8" fill="none" stroke-linejoin="round"/>
<text x="167.60" y="227.65" font-size="3.9" text-anchor="end" font-family='"Liberation Sans", sans-serif' font-weight="bold" fill="#6c6c6c" stroke="none" textLength="4.35" lengthAdjust="spacingAndGlyphs">100</text>
<text x="167.60" y="242.02" font-size="3.9" text-anchor="end" font-family='"Liberation Sans", sans-serif' font-weight="bold" fill="#6c6c6c" stroke="none" textLength="2.90" lengthAdjust="spacingAndGlyphs">80</text>
<text x="167.60" y="256.56" font-size="3.9" text-anchor="end" font-family='"Liberation Sans", sans-serif' font-weight="bold" fill="#6c6c6c" stroke="none" textLength="2.90" lengthAdjust="spacingAndGlyphs">60</text>
<text x="167.60" y="271.27" font-size="3.9" text-anchor="end" font-family='"Liberation Sans", sans-serif' font-weight="bold" fill="#6c6c6c" stroke="none" textLength="2.90" lengthAdjust="spacingAndGlyphs">40</text>
<text x="167.60" y="285.63" font-size="3.9" text-anchor="end" font-family='"Liberation Sans", sans-serif' font-weight="bold" fill="#6c6c6c" stroke="none" textLength="2.90" lengthAdjust="spacingAndGlyphs">20</text>
<rect x="170.50" y="312.50" width="68.00" height="72.00" fill="#fff" stroke="#828282" stroke-width="0.9"/>
<path d="M170.30,312.50V384.50" stroke="#5e5e5e" stroke-width="1.1" stroke-dasharray="1.35 0.75" fill="none"/>
<path d="M168.60,312.46h1.9M168.60,327.17h1.9M168.60,341.54h1.9M168.60,355.90h1.9M168.60,370.44h1.9" stroke="#484848" stroke-width="0.6" fill="none"/>
<path d="M170.50,384.65H238.50" stroke="#4c4c4c" stroke-width="1.15" stroke-dasharray="1.7 0.7" fill="none"/>
<path d="M170.50,384.50v2.00M173.46,384.50v1.30M176.41,384.50v1.30M179.37,384.50v1.30M182.33,384.50v1.30M185.28,384.50v2.00M188.24,384.50v1.30M191.20,384.50v1.30M194.15,384.50v1.30M197.11,384.50v1.30M200.07,384.50v2.00M203.02,384.50v1.30M205.98,384.50v1.30M208.93,384.50v1.30M211.89,384.50v1.30M214.85,384.50v2.00M217.80,384.50v1.30M220.76,384.50v1.30M223.72,384.50v1.30M226.67,384.50v1.30M229.63,384.50v2.00M232.59,384.50v1.30M235.54,384.50v1.30M238.50,384.50v1.30" stroke="#666" stroke-width="0.45" fill="none"/>
<path d="M171.10,374.42 C171.10,376.73 171.11,381.32 171.11,381.35 C171.51,384.24 171.91,384.29 172.31,384.29 C175.19,384.29 178.08,384.29 180.96,384.29 C183.85,384.29 186.73,384.29 189.62,384.29 C190.48,384.29 191.35,383.42 192.21,383.42 C193.37,383.42 194.52,383.60 195.67,383.60 C196.54,383.60 197.40,382.91 198.27,382.21 C198.85,381.74 199.42,380.87 200.00,379.62 C200.46,378.61 200.92,376.71 201.38,374.42 C201.79,372.42 202.19,369.32 202.60,365.77 C203.00,362.22 203.40,356.90 203.81,351.92 C204.15,347.65 204.50,342.03 204.85,338.08 C205.19,334.12 205.54,329.98 205.88,327.69 C206.17,325.79 206.46,324.10 206.75,323.37 C206.98,322.78 207.21,322.15 207.44,322.15 C207.73,322.15 208.02,325.22 208.31,327.69 C208.65,330.65 209.00,336.65 209.35,341.54 C209.69,346.43 210.04,352.23 210.38,357.12 C210.73,362.00 211.08,367.41 211.42,370.96 C211.77,374.51 212.12,378.10 212.46,379.62 C212.92,381.64 213.38,383.19 213.85,383.60 C214.42,384.10 215.00,384.44 215.58,384.46 C223.08,384.77 230.58,384.69 238.08,384.81" stroke="#747474" stroke-width="0.8" fill="none" stroke-linejoin="round"/>
<text x="167.60" y="313.87" font-size="3.9" text-anchor="end" font-family='"Liberation Sans", sans-serif' font-weight="bold" fill="#6c6c6c" stroke="none" textLength="4.35" lengthAdjust="spacingAndGlyphs">100</text>
<text x="167.60" y="328.58" font-size="3.9" text-anchor="end" font-family='"Liberation Sans", sans-serif' font-weight="bold" fill="#6c6c6c" stroke="none" textLength="2.90" lengthAdjust="spacingAndGlyphs">80</text>
<text x="167.60" y="342.94" font-size="3.9" text-anchor="end" font-family='"Liberation Sans", sans-serif' font-weight="bold" fill="#6c6c6c" stroke="none" textLength="2.90" lengthAdjust="spacingAndGlyphs">60</text>
<text x="167.60" y="357.31" font-size="3.9" text-anchor="end" font-family='"Liberation Sans", sans-serif' font-weight="bold" fill="#6c6c6c" stroke="none" textLength="2.90" lengthAdjust="spacingAndGlyphs">40</text>
<text x="167.60" y="371.85" font-size="3.9" text-anchor="end" font-family='"Liberation Sans", sans-serif' font-weight="bold" fill="#6c6c6c" stroke="none" textLength="2.90" lengthAdjust="spacingAndGlyphs">20</text>
<rect x="254.50" y="226.50" width="67.00" height="71.00" fill="#fff" stroke="#828282" stroke-width="0.9"/>
<path d="M254.30,226.50V297.50" stroke="#5e5e5e" stroke-width="1.1" stroke-dasharray="1.35 0.75" fill="none"/>
<path d="M252.60,226.25h1.9M252.60,240.44h1.9M252.60,254.81h1.9M252.60,269.17h1.9M252.60,283.37h1.9" stroke="#484848" stroke-width="0.6" fill="none"/>
<path d="M254.50,297.65H321.50" stroke="#4c4c4c" stroke-width="1.15" stroke-dasharray="1.7 0.7" fill="none"/>
<path d="M254.50,297.50v2.00M257.41,297.50v1.30M260.33,297.50v1.30M263.24,297.50v1.30M266.15,297.50v1.30M269.07,297.50v2.00M271.98,297.50v1.30M274.89,297.50v1.30M277.80,297.50v1.30M280.72,297.50v1.30M283.63,297.50v2.00M286.54,297.50v1.30M289.46,297.50v1.30M292.37,297.50v1.30M295.28,297.50v1.30M298.20,297.50v2.00M301.11,297.50v1.30M304.02,297.50v1.30M306.93,297.50v1.30M309.85,297.50v1.30M312.76,297.50v2.00M315.67,297.50v1.30M318.59,297.50v1.30M321.50,297.50v1.30" stroke="#666" stroke-width="0.45" fill="none"/>
<path d="M255.10,279.04 C255.14,283.08 255.19,290.57 255.23,291.15 C255.52,295.05 255.81,295.55 256.10,296.00 C256.50,296.63 256.90,297.04 257.31,297.04 C259.04,297.04 260.77,297.04 262.50,297.04 C263.94,297.04 265.38,297.04 266.83,297.04 C267.23,297.04 267.63,295.94 268.04,294.62 C268.38,293.48 268.73,289.70 269.08,285.96 C269.48,281.60 269.88,273.27 270.29,266.92 C270.69,260.58 271.10,252.79 271.50,247.88 C271.85,243.68 272.19,239.14 272.54,237.50 C272.77,236.41 273.00,235.25 273.23,235.25 C273.52,235.25 273.81,237.29 274.10,239.23 C274.44,241.56 274.79,249.11 275.13,253.08 C275.54,257.71 275.94,263.40 276.35,265.19 C276.75,266.99 277.15,268.65 277.56,268.65 C277.90,268.65 278.25,268.31 278.60,268.31 C279.00,268.31 279.40,269.83 279.81,270.38 C280.15,270.86 280.50,271.60 280.85,271.60 C281.25,271.60 281.65,270.30 282.06,269.52 C282.58,268.52 283.10,267.38 283.62,266.06 C284.19,264.59 284.77,262.84 285.35,260.87 C285.92,258.89 286.50,255.96 287.08,253.94 C287.54,252.33 288.00,250.51 288.46,249.62 C288.87,248.83 289.27,247.88 289.67,247.88 C289.96,247.88 290.25,248.65 290.54,249.62 C290.83,250.58 291.12,255.17 291.40,258.27 C291.75,261.99 292.10,266.65 292.44,270.38 C292.85,274.74 293.25,279.57 293.65,282.50 C294.12,285.84 294.58,288.65 295.04,290.29 C295.56,292.13 296.08,293.56 296.60,294.27 C297.23,295.13 297.87,295.86 298.50,296.00 C299.48,296.22 300.46,296.35 301.44,296.35 C302.88,296.35 304.33,296.09 305.77,296.00 C306.92,295.93 308.08,295.83 309.23,295.83 C310.96,295.83 312.69,296.23 314.42,296.35 C316.72,296.50 319.01,296.58 321.30,296.69" stroke="#747474" stroke-width="0.8" fill="none" stroke-linejoin="round"/>
<text x="251.60" y="227.65" font-size="3.9" text-anchor="end" font-family='"Liberation Sans", sans-serif' font-weight="bold" fill="#6c6c6c" stroke="none" textLength="4.35" lengthAdjust="spacingAndGlyphs">100</text>
<text x="251.60" y="241.85" font-size="3.9" text-anchor="end" font-family='"Liberation Sans", sans-serif' font-weight="bold" fill="#6c6c6c" stroke="none" textLength="2.90" lengthAdjust="spacingAndGlyphs">80</text>
<text x="251.60" y="256.21" font-size="3.9" text-anchor="end" font-family='"Liberation Sans", sans-serif' font-weight="bold" fill="#6c6c6c" stroke="none" textLength="2.90" lengthAdjust="spacingAndGlyphs">60</text>
<text x="251.60" y="270.58" font-size="3.9" text-anchor="end" font-family='"Liberation Sans", sans-serif' font-weight="bold" fill="#6c6c6c" stroke="none" textLength="2.90" lengthAdjust="spacingAndGlyphs">40</text>
<text x="251.60" y="284.77" font-size="3.9" text-anchor="end" font-family='"Liberation Sans", sans-serif' font-weight="bold" fill="#6c6c6c" stroke="none" textLength="2.90" lengthAdjust="spacingAndGlyphs">20</text>
<rect x="254.50" y="312.50" width="67.00" height="71.00" fill="#fff" stroke="#828282" stroke-width="0.9"/>
<path d="M254.30,312.50V383.50" stroke="#5e5e5e" stroke-width="1.1" stroke-dasharray="1.35 0.75" fill="none"/>
<path d="M252.60,312.46h1.9M252.60,326.83h1.9M252.60,341.19h1.9M252.60,355.38h1.9M252.60,369.75h1.9" stroke="#484848" stroke-width="0.6" fill="none"/>
<path d="M254.50,383.65H321.50" stroke="#4c4c4c" stroke-width="1.15" stroke-dasharray="1.7 0.7" fill="none"/>
<path d="M254.50,383.50v2.00M257.41,383.50v1.30M260.33,383.50v1.30M263.24,383.50v1.30M266.15,383.50v1.30M269.07,383.50v2.00M271.98,383.50v1.30M274.89,383.50v1.30M277.80,383.50v1.30M280.72,383.50v1.30M283.63,383.50v2.00M286.54,383.50v1.30M289.46,383.50v1.30M292.37,383.50v1.30M295.28,383.50v1.30M298.20,383.50v2.00M301.11,383.50v1.30M304.02,383.50v1.30M306.93,383.50v1.30M309.85,383.50v1.30M312.76,383.50v2.00M315.67,383.50v1.30M318.59,383.50v1.30M321.50,383.50v1.30" stroke="#666" stroke-width="0.45" fill="none"/>
<path d="M255.10,370.96 C255.14,373.85 255.19,379.30 255.23,379.62 C255.63,382.55 256.04,383.05 256.44,383.08 C258.46,383.22 260.48,383.25 262.50,383.25 C264.81,383.25 267.12,383.25 269.42,383.25 C270.12,383.25 270.81,382.13 271.50,381.69 C272.25,381.22 273.00,380.48 273.75,380.48 C274.62,380.48 275.48,381.00 276.35,381.00 C277.21,381.00 278.08,380.84 278.94,380.65 C279.69,380.50 280.44,380.16 281.19,379.62 C281.77,379.20 282.35,377.88 282.92,377.02 C283.50,376.15 284.08,375.84 284.65,374.42 C285.06,373.43 285.46,370.58 285.87,367.50 C286.27,364.42 286.67,358.54 287.08,353.65 C287.48,348.77 287.88,342.62 288.29,338.08 C288.69,333.53 289.10,328.31 289.50,325.96 C289.85,323.95 290.19,322.47 290.54,321.63 C290.77,321.08 291.00,320.42 291.23,320.42 C291.46,320.42 291.69,322.62 291.92,324.23 C292.27,326.64 292.62,330.66 292.96,334.62 C293.31,338.57 293.65,343.85 294.00,348.46 C294.35,353.08 294.69,358.34 295.04,362.31 C295.44,366.94 295.85,371.58 296.25,374.42 C296.65,377.26 297.06,380.04 297.46,381.00 C297.92,382.10 298.38,382.98 298.85,383.08 C300.00,383.32 301.15,383.42 302.31,383.42 C305.77,383.42 309.23,383.42 312.69,383.42 C314.42,383.42 316.15,382.73 317.88,382.73 C318.81,382.73 319.73,383.08 320.65,383.08 C320.83,383.08 321.00,379.62 321.17,377.88" stroke="#747474" stroke-width="0.8" fill="none" stroke-linejoin="round"/>
<text x="251.60" y="313.87" font-size="3.9" text-anchor="end" font-family='"Liberation Sans", sans-serif' font-weight="bold" fill="#6c6c6c" stroke="none" textLength="4.35" lengthAdjust="spacingAndGlyphs">100</text>
<text x="251.60" y="328.23" font-size="3.9" text-anchor="end" font-family='"Liberation Sans", sans-serif' font-weight="bold" fill="#6c6c6c" stroke="none" textLength="2.90" lengthAdjust="spacingAndGlyphs">80</text>
<text x="251.60" y="342.60" font-size="3.9" text-anchor="end" font-family='"Liberation Sans", sans-serif' font-weight="bold" fill="#6c6c6c" stroke="none" textLength="2.90" lengthAdjust="spacingAndGlyphs">60</text>
<text x="251.60" y="356.79" font-size="3.9" text-anchor="end" font-family='"Liberation Sans", sans-serif' font-weight="bold" fill="#6c6c6c" stroke="none" textLength="2.90" lengthAdjust="spacingAndGlyphs">40</text>
<text x="251.60" y="371.15" font-size="3.9" text-anchor="end" font-family='"Liberation Sans", sans-serif' font-weight="bold" fill="#6c6c6c" stroke="none" textLength="2.90" lengthAdjust="spacingAndGlyphs">20</text>
<rect x="336.50" y="226.50" width="65.00" height="72.00" fill="#fff" stroke="#828282" stroke-width="0.9"/>
<path d="M336.50,226.50V298.50" stroke="#555" stroke-width="0.9" fill="none"/>
<path d="M335.50,228.41h1.00M335.50,231.44h1.00M335.50,234.47h1.00M334.80,237.50h1.70M335.50,240.53h1.00M335.50,243.56h1.00M335.50,246.59h1.00M334.80,249.62h1.70M335.50,252.64h1.00M335.50,255.67h1.00M335.50,258.70h1.00M334.80,261.73h1.70M335.50,264.76h1.00M335.50,267.79h1.00M335.50,270.82h1.00M334.80,273.85h1.70M335.50,276.87h1.00M335.50,279.90h1.00M335.50,282.93h1.00M334.80,285.96h1.70M335.50,288.99h1.00M335.50,292.02h1.00M335.50,295.05h1.00" stroke="#484848" stroke-width="0.55" fill="none"/>
<path d="M336.50,298.65H401.50" stroke="#4c4c4c" stroke-width="1.15" stroke-dasharray="1.7 0.7" fill="none"/>
<path d="M336.50,298.50v2.00M339.33,298.50v1.30M342.15,298.50v1.30M344.98,298.50v1.30M347.80,298.50v1.30M350.63,298.50v2.00M353.46,298.50v1.30M356.28,298.50v1.30M359.11,298.50v1.30M361.93,298.50v1.30M364.76,298.50v2.00M367.59,298.50v1.30M370.41,298.50v1.30M373.24,298.50v1.30M376.07,298.50v1.30M378.89,298.50v2.00M381.72,298.50v1.30M384.54,298.50v1.30M387.37,298.50v1.30M390.20,298.50v1.30M393.02,298.50v2.00M395.85,298.50v1.30M398.67,298.50v1.30M401.50,298.50v1.30" stroke="#666" stroke-width="0.45" fill="none"/>
<path d="M337.31,297.73 C339.62,297.73 341.92,297.73 344.23,297.73 C345.96,297.73 347.69,297.73 349.42,297.73 C349.88,297.73 350.35,296.83 350.81,295.48 C351.15,294.47 351.50,288.95 351.85,284.23 C352.19,279.52 352.54,271.10 352.88,265.19 C353.17,260.27 353.46,253.50 353.75,251.35 C353.98,249.62 354.21,247.88 354.44,247.88 C354.67,247.88 354.90,251.77 355.13,254.81 C355.42,258.61 355.71,267.36 356.00,272.12 C356.29,276.87 356.58,282.28 356.87,284.23 C357.27,286.96 357.67,288.74 358.08,289.42 C358.65,290.39 359.23,291.15 359.81,291.15 C360.38,291.15 360.96,291.15 361.54,291.15 C362.12,291.15 362.69,290.62 363.27,290.29 C363.85,289.95 364.42,289.37 365.00,289.08 C365.58,288.78 366.15,288.38 366.73,288.38 C367.13,288.38 367.54,288.72 367.94,289.08 C368.40,289.49 368.87,291.04 369.33,292.02 C369.79,293.00 370.25,294.28 370.71,294.96 C371.29,295.81 371.87,296.63 372.44,296.87 C373.42,297.27 374.40,297.50 375.38,297.56 C377.12,297.67 378.85,297.69 380.58,297.73 C387.48,297.90 394.39,297.96 401.30,298.08" stroke="#747474" stroke-width="0.8" fill="none" stroke-linejoin="round"/>
<text x="333.30" y="239.30" font-size="5.0" text-anchor="end" font-family='"Liberation Sans", sans-serif' font-weight="bold" fill="#505050" stroke="none" textLength="5.10" lengthAdjust="spacingAndGlyphs">500</text>
<text x="333.30" y="251.42" font-size="5.0" text-anchor="end" font-family='"Liberation Sans", sans-serif' font-weight="bold" fill="#505050" stroke="none" textLength="5.10" lengthAdjust="spacingAndGlyphs">400</text>
<text x="333.30" y="263.53" font-size="5.0" text-anchor="end" font-family='"Liberation Sans", sans-serif' font-weight="bold" fill="#505050" stroke="none" textLength="5.10" lengthAdjust="spacingAndGlyphs">300</text>
<text x="333.30" y="275.65" font-size="5.0" text-anchor="end" font-family='"Liberation Sans", sans-serif' font-weight="bold" fill="#505050" stroke="none" textLength="5.10" lengthAdjust="spacingAndGlyphs">200</text>
<text x="333.30" y="287.76" font-size="5.0" text-anchor="end" font-family='"Liberation Sans", sans-serif' font-weight="bold" fill="#505050" stroke="none" textLength="5.10" lengthAdjust="spacingAndGlyphs">100</text>
<rect x="336.50" y="311.50" width="65.00" height="72.00" fill="#fff" stroke="#828282" stroke-width="0.9"/>
<path d="M336.50,311.50V383.50" stroke="#555" stroke-width="0.9" fill="none"/>
<path d="M335.50,313.73h1.00M335.50,316.77h1.00M335.50,319.81h1.00M334.80,322.85h1.70M335.50,325.89h1.00M335.50,328.93h1.00M335.50,331.97h1.00M334.80,335.00h1.70M335.50,338.04h1.00M335.50,341.08h1.00M335.50,344.12h1.00M334.80,347.16h1.70M335.50,350.20h1.00M335.50,353.24h1.00M335.50,356.28h1.00M334.80,359.32h1.70M335.50,362.36h1.00M335.50,365.40h1.00M335.50,368.44h1.00M334.80,371.48h1.70M335.50,374.52h1.00M335.50,377.56h1.00M335.50,380.60h1.00" stroke="#484848" stroke-width="0.55" fill="none"/>
<path d="M336.50,383.65H401.50" stroke="#4c4c4c" stroke-width="1.15" stroke-dasharray="1.7 0.7" fill="none"/>
<path d="M336.50,383.50v2.00M339.33,383.50v1.30M342.15,383.50v1.30M344.98,383.50v1.30M347.80,383.50v1.30M350.63,383.50v2.00M353.46,383.50v1.30M356.28,383.50v1.30M359.11,383.50v1.30M361.93,383.50v1.30M364.76,383.50v2.00M367.59,383.50v1.30M370.41,383.50v1.30M373.24,383.50v1.30M376.07,383.50v1.30M378.89,383.50v2.00M381.72,383.50v1.30M384.54,383.50v1.30M387.37,383.50v1.30M390.20,383.50v1.30M393.02,383.50v2.00M395.85,383.50v1.30M398.67,383.50v1.30M401.50,383.50v1.30" stroke="#666" stroke-width="0.45" fill="none"/>
<path d="M337.31,383.08 C339.62,383.08 341.92,383.08 344.23,383.08 C346.54,383.08 348.85,383.08 351.15,383.08 C351.62,383.08 352.08,382.39 352.54,381.35 C352.88,380.57 353.23,376.54 353.58,372.69 C353.92,368.85 354.27,360.19 354.62,355.38 C354.90,351.38 355.19,346.44 355.48,345.00 C355.65,344.14 355.83,343.27 356.00,343.27 C356.23,343.27 356.46,347.26 356.69,350.19 C356.98,353.86 357.27,361.62 357.56,365.77 C357.85,369.92 358.13,374.90 358.42,376.15 C358.88,378.17 359.35,379.27 359.81,379.62 C360.67,380.26 361.54,380.65 362.40,380.65 C363.27,380.65 364.13,380.53 365.00,380.31 C365.58,380.16 366.15,379.23 366.73,377.88 C367.13,376.94 367.54,373.71 367.94,370.96 C368.29,368.60 368.63,364.45 368.98,362.31 C369.27,360.52 369.56,358.55 369.85,357.98 C370.08,357.53 370.31,357.12 370.54,357.12 C370.83,357.12 371.12,359.03 371.40,360.58 C371.75,362.43 372.10,366.56 372.44,369.23 C372.85,372.34 373.25,376.21 373.65,377.88 C374.12,379.79 374.58,381.40 375.04,381.87 C375.73,382.57 376.42,383.05 377.12,383.08 C385.18,383.38 393.24,383.31 401.30,383.42" stroke="#747474" stroke-width="0.8" fill="none" stroke-linejoin="round"/>
<text x="333.30" y="324.65" font-size="5.0" text-anchor="end" font-family='"Liberation Sans", sans-serif' font-weight="bold" fill="#505050" stroke="none" textLength="5.10" lengthAdjust="spacingAndGlyphs">500</text>
<text x="333.30" y="336.93" font-size="5.0" text-anchor="end" font-family='"Liberation Sans", sans-serif' font-weight="bold" fill="#505050" stroke="none" textLength="5.10" lengthAdjust="spacingAndGlyphs">400</text>
<text x="333.30" y="349.05" font-size="5.0" text-anchor="end" font-family='"Liberation Sans", sans-serif' font-weight="bold" fill="#505050" stroke="none" textLength="5.10" lengthAdjust="spacingAndGlyphs">300</text>
<text x="333.30" y="361.17" font-size="5.0" text-anchor="end" font-family='"Liberation Sans", sans-serif' font-weight="bold" fill="#505050" stroke="none" textLength="5.10" lengthAdjust="spacingAndGlyphs">200</text>
<text x="333.30" y="373.28" font-size="5.0" text-anchor="end" font-family='"Liberation Sans", sans-serif' font-weight="bold" fill="#505050" stroke="none" textLength="5.10" lengthAdjust="spacingAndGlyphs">100</text>
<rect x="451.50" y="224.50" width="65.00" height="74.00" fill="#fff" stroke="#9c9c9c" stroke-width="0.9"/>
<path d="M451.30,224.50V298.50" stroke="#808080" stroke-width="1.1" stroke-dasharray="1.35 0.75" fill="none"/>
<path d="M449.60,224.56h1.9M449.60,239.62h1.9M449.60,254.67h1.9M449.60,269.38h1.9M449.60,284.27h1.9" stroke="#484848" stroke-width="0.6" fill="none"/>
<path d="M451.50,298.65H516.50" stroke="#4c4c4c" stroke-width="1.15" stroke-dasharray="1.7 0.7" fill="none"/>
<path d="M451.50,298.50v2.00M454.33,298.50v1.30M457.15,298.50v1.30M459.98,298.50v1.30M462.80,298.50v1.30M465.63,298.50v2.00M468.46,298.50v1.30M471.28,298.50v1.30M474.11,298.50v1.30M476.93,298.50v1.30M479.76,298.50v2.00M482.59,298.50v1.30M485.41,298.50v1.30M488.24,298.50v1.30M491.07,298.50v1.30M493.89,298.50v2.00M496.72,298.50v1.30M499.54,298.50v1.30M502.37,298.50v1.30M505.20,298.50v1.30M508.02,298.50v2.00M510.85,298.50v1.30M513.67,298.50v1.30M516.50,298.50v1.30" stroke="#666" stroke-width="0.45" fill="none"/>
<path d="M452.10,298.12 C453.96,298.12 455.83,298.12 457.69,298.12 C459.42,298.12 461.15,298.12 462.88,298.12 C463.29,298.12 463.69,297.26 464.10,295.87 C464.38,294.87 464.67,289.17 464.96,282.88 C465.19,277.86 465.42,264.96 465.65,256.92 C465.88,248.89 466.12,237.59 466.35,234.42 C466.52,232.05 466.69,229.75 466.87,229.75 C467.04,229.75 467.21,235.32 467.38,239.62 C467.62,245.35 467.85,257.88 468.08,265.58 C468.31,273.27 468.54,282.42 468.77,286.35 C469.06,291.25 469.35,295.62 469.63,296.38 C470.04,297.46 470.44,298.10 470.85,298.12 C474.54,298.27 478.23,298.26 481.92,298.29 C493.38,298.38 504.84,298.40 516.30,298.46" stroke="#8c8c8c" stroke-width="0.8" fill="none" stroke-linejoin="round"/>
<text x="448.60" y="225.96" font-size="3.9" text-anchor="end" font-family='"Liberation Sans", sans-serif' font-weight="bold" fill="#6c6c6c" stroke="none" textLength="4.35" lengthAdjust="spacingAndGlyphs">100</text>
<text x="448.60" y="241.02" font-size="3.9" text-anchor="end" font-family='"Liberation Sans", sans-serif' font-weight="bold" fill="#6c6c6c" stroke="none" textLength="2.90" lengthAdjust="spacingAndGlyphs">80</text>
<text x="448.60" y="256.08" font-size="3.9" text-anchor="end" font-family='"Liberation Sans", sans-serif' font-weight="bold" fill="#6c6c6c" stroke="none" textLength="2.90" lengthAdjust="spacingAndGlyphs">60</text>
<text x="448.60" y="270.79" font-size="3.9" text-anchor="end" font-family='"Liberation Sans", sans-serif' font-weight="bold" fill="#6c6c6c" stroke="none" textLength="2.90" lengthAdjust="spacingAndGlyphs">40</text>
<text x="448.60" y="285.67" font-size="3.9" text-anchor="end" font-family='"Liberation Sans", sans-serif' font-weight="bold" fill="#6c6c6c" stroke="none" textLength="2.90" lengthAdjust="spacingAndGlyphs">20</text>
<rect x="451.50" y="310.50" width="65.00" height="74.00" fill="#fff" stroke="#9c9c9c" stroke-width="0.9"/>
<path d="M451.30,310.50V384.50" stroke="#808080" stroke-width="1.1" stroke-dasharray="1.35 0.75" fill="none"/>
<path d="M449.60,310.38h1.9M449.60,325.10h1.9M449.60,339.81h1.9M449.60,354.52h1.9M449.60,369.58h1.9" stroke="#484848" stroke-width="0.6" fill="none"/>
<path d="M451.50,384.65H516.50" stroke="#4c4c4c" stroke-width="1.15" stroke-dasharray="1.7 0.7" fill="none"/>
<path d="M451.50,384.50v2.00M454.33,384.50v1.30M457.15,384.50v1.30M459.98,384.50v1.30M462.80,384.50v1.30M465.63,384.50v2.00M468.46,384.50v1.30M471.28,384.50v1.30M474.11,384.50v1.30M476.93,384.50v1.30M479.76,384.50v2.00M482.59,384.50v1.30M485.41,384.50v1.30M488.24,384.50v1.30M491.07,384.50v1.30M493.89,384.50v2.00M496.72,384.50v1.30M499.54,384.50v1.30M502.37,384.50v1.30M505.20,384.50v1.30M508.02,384.50v2.00M510.85,384.50v1.30M513.67,384.50v1.30M516.50,384.50v1.30" stroke="#666" stroke-width="0.45" fill="none"/>
<path d="M452.10,383.94 C453.96,383.94 455.83,383.94 457.69,383.94 C459.54,383.94 461.38,383.94 463.23,383.94 C463.63,383.94 464.04,382.96 464.44,381.35 C464.73,380.19 465.02,372.42 465.31,365.77 C465.60,359.12 465.88,346.59 466.17,338.08 C466.40,331.27 466.63,321.92 466.87,319.04 C467.04,316.88 467.21,314.71 467.38,314.71 C467.56,314.71 467.73,319.95 467.90,324.23 C468.13,329.93 468.37,343.65 468.60,351.92 C468.83,360.20 469.06,370.57 469.29,374.42 C469.52,378.28 469.75,381.58 469.98,382.21 C470.38,383.31 470.79,383.92 471.19,383.94 C474.77,384.10 478.35,384.09 481.92,384.12 C493.38,384.21 504.84,384.23 516.30,384.29" stroke="#8c8c8c" stroke-width="0.8" fill="none" stroke-linejoin="round"/>
<text x="448.60" y="311.79" font-size="3.9" text-anchor="end" font-family='"Liberation Sans", sans-serif' font-weight="bold" fill="#6c6c6c" stroke="none" textLength="4.35" lengthAdjust="spacingAndGlyphs">100</text>
<text x="448.60" y="326.50" font-size="3.9" text-anchor="end" font-family='"Liberation Sans", sans-serif' font-weight="bold" fill="#6c6c6c" stroke="none" textLength="2.90" lengthAdjust="spacingAndGlyphs">80</text>
<text x="448.60" y="341.21" font-size="3.9" text-anchor="end" font-family='"Liberation Sans", sans-serif' font-weight="bold" fill="#6c6c6c" stroke="none" textLength="2.90" lengthAdjust="spacingAndGlyphs">60</text>
<text x="448.60" y="355.92" font-size="3.9" text-anchor="end" font-family='"Liberation Sans", sans-serif' font-weight="bold" fill="#6c6c6c" stroke="none" textLength="2.90" lengthAdjust="spacingAndGlyphs">40</text>
<text x="448.60" y="370.98" font-size="3.9" text-anchor="end" font-family='"Liberation Sans", sans-serif' font-weight="bold" fill="#6c6c6c" stroke="none" textLength="2.90" lengthAdjust="spacingAndGlyphs">20</text>
<text x="151.60" y="33.30" font-size="8.6" text-anchor="end" fill="#111">ATN-1</text>
<text x="233.60" y="33.00" font-size="8.9" text-anchor="end" fill="#111">MT-1</text>
<text x="320.80" y="30.60" font-size="9.1" text-anchor="end" fill="#111">ST1</text>
<text x="398.30" y="31.30" font-size="9.2" text-anchor="end" fill="#111">MT-2</text>
<text x="148.40" y="232.80" font-size="9.2" text-anchor="end" fill="#111">KOB</text>
<text x="236.60" y="233.80" font-size="9.1" text-anchor="end" fill="#111">ST1 (IL-2)</text>
<text x="318.90" y="235.40" font-size="9.1" text-anchor="end" fill="#111">KK1</text>
<text x="397.80" y="234.50" font-size="9.3" text-anchor="end" fill="#111">OMT</text>
<text x="104.00" y="197.60" font-size="10.4" fill="#111">2N</text>
<text x="123.60" y="197.60" font-size="10.5" fill="#111">4N</text>
<text x="186.00" y="197.60" font-size="10.4" fill="#111">2N</text>
<text x="204.70" y="197.60" font-size="10.5" fill="#111">4N</text>
<text x="259.40" y="196.40" font-size="10.4" fill="#111">2N</text>
<text x="275.20" y="196.40" font-size="10.5" fill="#111">4N</text>
<text x="349.20" y="196.50" font-size="10.4" fill="#111">2N</text>
<text x="365.80" y="196.50" font-size="10.5" fill="#111">4N</text>
<text x="101.00" y="395.40" font-size="10.4" fill="#111">2N</text>
<text x="117.00" y="395.40" font-size="10.5" fill="#111">4N</text>
<text x="185.80" y="395.50" font-size="10.4" fill="#111">2N</text>
<text x="200.20" y="395.50" font-size="10.5" fill="#111">4N</text>
<text x="267.60" y="395.60" font-size="10.4" fill="#111">2N</text>
<text x="283.00" y="395.60" font-size="10.5" fill="#111">4N</text>
<text x="349.30" y="393.90" font-size="10.4" fill="#111">2N</text>
<text x="362.90" y="393.90" font-size="10.5" fill="#111">4N</text>
<text x="462.50" y="395.40" font-size="10.4" fill="#111">2N</text>
<text x="478.60" y="395.40" font-size="10.5" fill="#111">4N</text>
<text x="84.60" y="15.90" font-size="13.5" fill="#111">IL-2 independent cells</text>
<text x="86.00" y="220.60" font-size="13.6" fill="#111">IL-2 dependent cells</text>
<text x="444.20" y="217.80" font-size="12.15" fill="#111">Normal PBMC</text>
<text x="4.90" y="11.90" font-size="14.9" font-family='"Liberation Sans", sans-serif' font-weight="bold" fill="#000" stroke="none" textLength="9.8" lengthAdjust="spacingAndGlyphs">A</text>
<text x="44.40" y="67.40" font-size="13.9" fill="#111">0nM</text>
<text x="35.00" y="151.70" font-size="13.6" fill="#111">100nM</text>
<text x="34.60" y="264.60" font-size="13.9" fill="#111">0nM</text>
<text x="28.40" y="350.80" font-size="13.6" fill="#111">100nM</text>
<path d="M34.5,57.7H27.6Q26.7,57.7 26.7,58.7V366.0Q26.7,367.0 27.6,367.0H34.5" stroke="#222" stroke-width="0.9" fill="none"/>
<text transform="translate(12.3,270.5) rotate(-90)" font-size="15.1" fill="#111">Treatment with NK314</text>
</g>
<g id="partB">
<text x="1.90" y="414.80" font-size="14.3" font-family='"Liberation Sans", sans-serif' font-weight="bold" fill="#000" stroke="none">B</text>
<text x="70.60" y="419.80" font-size="13.6" fill="#111">IL-2 independent cells</text>
<text x="71.80" y="562.50" font-size="13.6" fill="#111">IL-2 dependent cells</text>
<text x="46.70" y="700.40" font-size="12.15" fill="#111">Normal PBMC</text>
<rect x="29.80" y="432.60" width="102.70" height="85.20" fill="#fff" stroke="#8e8e8e" stroke-width="0.7"/>
<path d="M29.80,432.60V517.80H132.50" fill="none" stroke="#686868" stroke-width="0.7"/>
<path d="M29.80,496.50h1.6M29.80,475.20h1.6M29.80,453.90h1.6" stroke="#555" stroke-width="0.6" fill="none"/>
<text x="28.30" y="521.20" font-size="8.0" text-anchor="end" fill="#222">0</text>
<text x="28.60" y="499.40" font-size="8.0" text-anchor="end" fill="#222">5</text>
<text x="28.60" y="478.07" font-size="8.0" text-anchor="end" fill="#222">10</text>
<text x="28.60" y="456.73" font-size="8.0" text-anchor="end" fill="#222">15</text>
<text x="28.60" y="435.40" font-size="8.0" text-anchor="end" fill="#222">20</text>
<path d="M42.45,513.30V510.70" stroke="#6a6a6a" stroke-width="0.6"/>
<path d="M41.75,510.70h1.4" stroke="#6a6a6a" stroke-width="0.6"/>
<rect x="37.10" y="513.30" width="10.70" height="4.60" fill="#000" stroke="none"/>
<path d="M68.10,485.80V475.00" stroke="#6a6a6a" stroke-width="0.6"/>
<path d="M67.40,475.00h1.4" stroke="#6a6a6a" stroke-width="0.6"/>
<rect x="62.70" y="485.80" width="10.80" height="32.10" fill="#000" stroke="none"/>
<path d="M93.40,480.80V474.50" stroke="#6a6a6a" stroke-width="0.6"/>
<path d="M92.70,474.50h1.4" stroke="#6a6a6a" stroke-width="0.6"/>
<rect x="88.00" y="480.80" width="10.80" height="37.10" fill="#000" stroke="none"/>
<path d="M119.10,473.80V467.00" stroke="#6a6a6a" stroke-width="0.6"/>
<path d="M118.40,467.00h1.4" stroke="#6a6a6a" stroke-width="0.6"/>
<rect x="113.70" y="473.80" width="10.80" height="44.10" fill="#000" stroke="none"/>
<text x="43.00" y="528.30" font-size="8.0" text-anchor="middle" fill="#222">0</text>
<text x="68.20" y="528.30" font-size="8.0" text-anchor="middle" fill="#222">50</text>
<text x="93.70" y="528.30" font-size="8.0" text-anchor="middle" fill="#222">100</text>
<text x="119.30" y="528.30" font-size="8.0" text-anchor="middle" fill="#222">200</text>
<text x="30.00" y="539.40" font-size="9.15" fill="#181818">Concentration of NK314 (nM)</text>
<text x="37.10" y="447.00" font-size="12.3" fill="#111">ATN-1</text>
<rect x="154.30" y="430.80" width="100.00" height="83.70" fill="#fff" stroke="#8e8e8e" stroke-width="0.7"/>
<path d="M154.30,430.80V514.50H254.30" fill="none" stroke="#686868" stroke-width="0.7"/>
<path d="M154.30,493.57h1.6M154.30,472.65h1.6M154.30,451.73h1.6" stroke="#555" stroke-width="0.6" fill="none"/>
<text x="153.60" y="517.20" font-size="8.0" text-anchor="end" fill="#222">0</text>
<text x="153.80" y="495.95" font-size="8.0" text-anchor="end" fill="#222">5</text>
<text x="153.80" y="474.45" font-size="8.0" text-anchor="end" fill="#222">10</text>
<text x="153.80" y="452.95" font-size="8.0" text-anchor="end" fill="#222">15</text>
<text x="153.80" y="431.45" font-size="8.0" text-anchor="end" fill="#222">20</text>
<rect x="162.00" y="510.50" width="10.20" height="4.10" fill="#000" stroke="none"/>
<path d="M192.25,498.30V495.00" stroke="#6a6a6a" stroke-width="0.6"/>
<path d="M191.55,495.00h1.4" stroke="#6a6a6a" stroke-width="0.6"/>
<rect x="187.00" y="498.30" width="10.50" height="16.30" fill="#000" stroke="none"/>
<path d="M217.25,470.50V468.70" stroke="#6a6a6a" stroke-width="0.6"/>
<path d="M216.55,468.70h1.4" stroke="#6a6a6a" stroke-width="0.6"/>
<rect x="212.00" y="470.50" width="10.50" height="44.10" fill="#000" stroke="none"/>
<path d="M242.25,458.00V455.50" stroke="#6a6a6a" stroke-width="0.6"/>
<path d="M241.55,455.50h1.4" stroke="#6a6a6a" stroke-width="0.6"/>
<rect x="237.00" y="458.00" width="10.50" height="56.60" fill="#000" stroke="none"/>
<text x="167.50" y="524.20" font-size="8.0" text-anchor="middle" fill="#222">0</text>
<text x="192.00" y="524.20" font-size="8.0" text-anchor="middle" fill="#222">50</text>
<text x="216.80" y="524.20" font-size="8.0" text-anchor="middle" fill="#222">100</text>
<text x="243.00" y="524.20" font-size="8.0" text-anchor="middle" fill="#222">200</text>
<text x="148.80" y="535.60" font-size="9.15" fill="#181818">Concentration of NK314 (nM)</text>
<text x="161.20" y="444.50" font-size="12.0" fill="#111">MT-1</text>
<rect x="280.50" y="430.00" width="98.80" height="85.00" fill="#fff" stroke="#8e8e8e" stroke-width="0.7"/>
<path d="M280.50,430.00V515.00H379.30" fill="none" stroke="#686868" stroke-width="0.7"/>
<path d="M280.50,493.75h1.6M280.50,472.50h1.6M280.50,451.25h1.6" stroke="#555" stroke-width="0.6" fill="none"/>
<text x="279.30" y="517.70" font-size="8.0" text-anchor="end" fill="#222">0</text>
<text x="278.80" y="495.95" font-size="8.0" text-anchor="end" fill="#222">5</text>
<text x="278.80" y="474.20" font-size="8.0" text-anchor="end" fill="#222">10</text>
<text x="278.80" y="452.45" font-size="8.0" text-anchor="end" fill="#222">15</text>
<text x="278.80" y="430.70" font-size="8.0" text-anchor="end" fill="#222">20</text>
<rect x="288.00" y="510.80" width="10.30" height="4.30" fill="#000" stroke="none"/>
<path d="M317.75,506.30V504.80" stroke="#6a6a6a" stroke-width="0.6"/>
<path d="M317.05,504.80h1.4" stroke="#6a6a6a" stroke-width="0.6"/>
<rect x="312.50" y="506.30" width="10.50" height="8.80" fill="#000" stroke="none"/>
<path d="M342.25,486.80V484.80" stroke="#6a6a6a" stroke-width="0.6"/>
<path d="M341.55,484.80h1.4" stroke="#6a6a6a" stroke-width="0.6"/>
<rect x="337.00" y="486.80" width="10.50" height="28.30" fill="#000" stroke="none"/>
<path d="M366.90,487.00V485.50" stroke="#6a6a6a" stroke-width="0.6"/>
<path d="M366.20,485.50h1.4" stroke="#6a6a6a" stroke-width="0.6"/>
<rect x="361.80" y="487.00" width="10.20" height="28.10" fill="#000" stroke="none"/>
<text x="291.30" y="524.70" font-size="8.0" text-anchor="middle" fill="#222">0</text>
<text x="317.50" y="524.70" font-size="8.0" text-anchor="middle" fill="#222">50</text>
<text x="341.50" y="524.70" font-size="8.0" text-anchor="middle" fill="#222">100</text>
<text x="367.00" y="524.70" font-size="8.0" text-anchor="middle" fill="#222">200</text>
<text x="278.80" y="537.40" font-size="9.15" fill="#181818">Concentration of NK314 (nM)</text>
<text x="290.20" y="444.50" font-size="12.2" fill="#111">ST1</text>
<rect x="406.30" y="430.00" width="100.50" height="85.00" fill="#fff" stroke="#8e8e8e" stroke-width="0.7"/>
<path d="M406.30,430.00V515.00H506.80" fill="none" stroke="#686868" stroke-width="0.7"/>
<path d="M406.30,493.75h1.6M406.30,472.50h1.6M406.30,451.25h1.6" stroke="#555" stroke-width="0.6" fill="none"/>
<text x="405.50" y="517.70" font-size="8.0" text-anchor="end" fill="#222">0</text>
<text x="405.00" y="496.30" font-size="8.0" text-anchor="end" fill="#222">5</text>
<text x="405.00" y="474.52" font-size="8.0" text-anchor="end" fill="#222">10</text>
<text x="405.00" y="452.73" font-size="8.0" text-anchor="end" fill="#222">15</text>
<text x="405.00" y="430.95" font-size="8.0" text-anchor="end" fill="#222">20</text>
<path d="M419.05,510.50V507.50" stroke="#6a6a6a" stroke-width="0.6"/>
<path d="M418.35,507.50h1.4" stroke="#6a6a6a" stroke-width="0.6"/>
<rect x="413.80" y="510.50" width="10.50" height="4.60" fill="#000" stroke="none"/>
<rect x="439.30" y="500.80" width="10.20" height="14.30" fill="#000" stroke="none"/>
<rect x="464.30" y="500.80" width="10.20" height="14.30" fill="#000" stroke="none"/>
<rect x="489.30" y="500.30" width="10.20" height="14.80" fill="#000" stroke="none"/>
<text x="418.80" y="524.70" font-size="8.0" text-anchor="middle" fill="#222">0</text>
<text x="443.30" y="524.70" font-size="8.0" text-anchor="middle" fill="#222">50</text>
<text x="468.00" y="524.70" font-size="8.0" text-anchor="middle" fill="#222">100</text>
<text x="494.30" y="524.70" font-size="8.0" text-anchor="middle" fill="#222">200</text>
<text x="405.50" y="537.40" font-size="8.92" fill="#181818">Concentration of NK314 (nM)</text>
<text x="411.20" y="445.00" font-size="11.9" fill="#111">MT-2</text>
<rect x="31.50" y="569.30" width="103.50" height="85.30" fill="#fff" stroke="#8e8e8e" stroke-width="0.7"/>
<path d="M31.50,569.30V654.60H135.00" fill="none" stroke="#686868" stroke-width="0.7"/>
<path d="M31.50,633.27h1.6M31.50,611.95h1.6M31.50,590.62h1.6" stroke="#555" stroke-width="0.6" fill="none"/>
<text x="28.60" y="658.90" font-size="8.0" text-anchor="end" fill="#222">0</text>
<text x="29.00" y="635.40" font-size="8.0" text-anchor="end" fill="#222">5</text>
<text x="29.00" y="613.47" font-size="8.0" text-anchor="end" fill="#222">10</text>
<text x="29.00" y="591.53" font-size="8.0" text-anchor="end" fill="#222">15</text>
<text x="29.00" y="569.60" font-size="8.0" text-anchor="end" fill="#222">20</text>
<rect x="39.20" y="650.40" width="10.50" height="4.30" fill="#000" stroke="none"/>
<rect x="65.00" y="645.50" width="10.60" height="9.20" fill="#000" stroke="none"/>
<rect x="90.50" y="644.50" width="10.70" height="10.20" fill="#000" stroke="none"/>
<rect x="116.20" y="642.50" width="10.60" height="12.20" fill="#000" stroke="none"/>
<text x="42.10" y="665.30" font-size="8.0" text-anchor="middle" fill="#222">0</text>
<text x="70.00" y="665.30" font-size="8.0" text-anchor="middle" fill="#222">50</text>
<text x="95.80" y="665.30" font-size="8.0" text-anchor="middle" fill="#222">100</text>
<text x="121.80" y="665.30" font-size="8.0" text-anchor="middle" fill="#222">200</text>
<text x="27.00" y="679.00" font-size="9.15" fill="#181818">Concentration of NK314 (nM)</text>
<text x="37.10" y="586.90" font-size="11.9" fill="#111" textLength="24.5" lengthAdjust="spacingAndGlyphs">KOB</text>
<rect x="156.30" y="568.50" width="100.50" height="85.30" fill="#fff" stroke="#8e8e8e" stroke-width="0.7"/>
<path d="M156.30,568.50V653.80H256.80" fill="none" stroke="#686868" stroke-width="0.7"/>
<path d="M156.30,632.47h1.6M156.30,611.15h1.6M156.30,589.83h1.6" stroke="#555" stroke-width="0.6" fill="none"/>
<text x="154.80" y="656.95" font-size="8.0" text-anchor="end" fill="#222">0</text>
<text x="154.30" y="635.20" font-size="8.0" text-anchor="end" fill="#222">5</text>
<text x="154.30" y="613.37" font-size="8.0" text-anchor="end" fill="#222">10</text>
<text x="154.30" y="591.53" font-size="8.0" text-anchor="end" fill="#222">15</text>
<text x="154.30" y="569.70" font-size="8.0" text-anchor="end" fill="#222">20</text>
<rect x="164.30" y="649.30" width="10.20" height="4.60" fill="#000" stroke="none"/>
<path d="M194.75,629.50V627.50" stroke="#6a6a6a" stroke-width="0.6"/>
<path d="M194.05,627.50h1.4" stroke="#6a6a6a" stroke-width="0.6"/>
<rect x="189.50" y="629.50" width="10.50" height="24.40" fill="#000" stroke="none"/>
<path d="M220.25,629.50V628.80" stroke="#6a6a6a" stroke-width="0.6"/>
<path d="M219.55,628.80h1.4" stroke="#6a6a6a" stroke-width="0.6"/>
<rect x="215.00" y="629.50" width="10.50" height="24.40" fill="#000" stroke="none"/>
<path d="M245.40,624.50V617.00" stroke="#6a6a6a" stroke-width="0.6"/>
<path d="M244.70,617.00h1.4" stroke="#6a6a6a" stroke-width="0.6"/>
<rect x="240.00" y="624.50" width="10.80" height="29.40" fill="#000" stroke="none"/>
<text x="168.00" y="664.00" font-size="8.0" text-anchor="middle" fill="#222">0</text>
<text x="194.50" y="664.00" font-size="8.0" text-anchor="middle" fill="#222">50</text>
<text x="218.80" y="664.00" font-size="8.0" text-anchor="middle" fill="#222">100</text>
<text x="245.00" y="664.00" font-size="8.0" text-anchor="middle" fill="#222">200</text>
<text x="156.30" y="679.00" font-size="9.15" fill="#181818">Concentration of NK314 (nM)</text>
<text x="163.60" y="583.40" font-size="12.0" fill="#111">ST1 (IL-2)</text>
<rect x="280.50" y="568.80" width="101.30" height="85.00" fill="#fff" stroke="#8e8e8e" stroke-width="0.7"/>
<path d="M280.50,568.80V653.80H381.80" fill="none" stroke="#686868" stroke-width="0.7"/>
<path d="M280.50,632.55h1.6M280.50,611.30h1.6M280.50,590.05h1.6" stroke="#555" stroke-width="0.6" fill="none"/>
<text x="277.70" y="657.20" font-size="8.0" text-anchor="end" fill="#222">0</text>
<text x="277.20" y="635.20" font-size="8.0" text-anchor="end" fill="#222">5</text>
<text x="277.20" y="613.37" font-size="8.0" text-anchor="end" fill="#222">10</text>
<text x="277.20" y="591.53" font-size="8.0" text-anchor="end" fill="#222">15</text>
<text x="277.20" y="569.70" font-size="8.0" text-anchor="end" fill="#222">20</text>
<rect x="288.00" y="649.50" width="10.30" height="4.40" fill="#000" stroke="none"/>
<path d="M318.55,648.80V648.00" stroke="#6a6a6a" stroke-width="0.6"/>
<path d="M317.85,648.00h1.4" stroke="#6a6a6a" stroke-width="0.6"/>
<rect x="313.30" y="648.80" width="10.50" height="5.10" fill="#000" stroke="none"/>
<path d="M343.55,648.00V647.20" stroke="#6a6a6a" stroke-width="0.6"/>
<path d="M342.85,647.20h1.4" stroke="#6a6a6a" stroke-width="0.6"/>
<rect x="338.30" y="648.00" width="10.50" height="5.90" fill="#000" stroke="none"/>
<rect x="363.80" y="645.50" width="10.50" height="8.40" fill="#000" stroke="none"/>
<text x="292.00" y="664.30" font-size="8.0" text-anchor="middle" fill="#222">0</text>
<text x="317.50" y="664.30" font-size="8.0" text-anchor="middle" fill="#222">50</text>
<text x="343.30" y="664.30" font-size="8.0" text-anchor="middle" fill="#222">100</text>
<text x="368.80" y="664.30" font-size="8.0" text-anchor="middle" fill="#222">200</text>
<text x="279.50" y="680.00" font-size="9.15" fill="#181818">Concentration of NK314 (nM)</text>
<text x="288.50" y="583.80" font-size="12.3" fill="#111">KK1</text>
<rect x="407.20" y="568.30" width="100.60" height="85.00" fill="#fff" stroke="#8e8e8e" stroke-width="0.7"/>
<path d="M407.20,568.30V653.30H507.80" fill="none" stroke="#686868" stroke-width="0.7"/>
<path d="M407.20,632.05h1.6M407.20,610.80h1.6M407.20,589.55h1.6" stroke="#555" stroke-width="0.6" fill="none"/>
<text x="405.50" y="656.45" font-size="8.0" text-anchor="end" fill="#222">0</text>
<text x="405.00" y="635.20" font-size="8.0" text-anchor="end" fill="#222">5</text>
<text x="405.00" y="613.12" font-size="8.0" text-anchor="end" fill="#222">10</text>
<text x="405.00" y="591.03" font-size="8.0" text-anchor="end" fill="#222">15</text>
<text x="405.00" y="568.95" font-size="8.0" text-anchor="end" fill="#222">20</text>
<path d="M419.40,649.30V647.00" stroke="#6a6a6a" stroke-width="0.6"/>
<path d="M418.70,647.00h1.4" stroke="#6a6a6a" stroke-width="0.6"/>
<rect x="414.30" y="649.30" width="10.20" height="4.10" fill="#000" stroke="none"/>
<path d="M444.75,649.30V647.50" stroke="#6a6a6a" stroke-width="0.6"/>
<path d="M444.05,647.50h1.4" stroke="#6a6a6a" stroke-width="0.6"/>
<rect x="439.50" y="649.30" width="10.50" height="4.10" fill="#000" stroke="none"/>
<path d="M470.25,648.00V645.80" stroke="#6a6a6a" stroke-width="0.6"/>
<path d="M469.55,645.80h1.4" stroke="#6a6a6a" stroke-width="0.6"/>
<rect x="465.00" y="648.00" width="10.50" height="5.40" fill="#000" stroke="none"/>
<path d="M495.25,647.00V644.50" stroke="#6a6a6a" stroke-width="0.6"/>
<path d="M494.55,644.50h1.4" stroke="#6a6a6a" stroke-width="0.6"/>
<rect x="490.00" y="647.00" width="10.50" height="6.40" fill="#000" stroke="none"/>
<text x="419.30" y="662.60" font-size="8.0" text-anchor="middle" fill="#222">0</text>
<text x="443.80" y="662.60" font-size="8.0" text-anchor="middle" fill="#222">50</text>
<text x="469.30" y="662.60" font-size="8.0" text-anchor="middle" fill="#222">100</text>
<text x="494.50" y="662.60" font-size="8.0" text-anchor="middle" fill="#222">200</text>
<text x="406.30" y="674.20" font-size="9.15" fill="#181818">Concentration of NK314 (nM)</text>
<text x="412.00" y="583.90" font-size="12.8" fill="#111" textLength="27.0" lengthAdjust="spacingAndGlyphs">OMT</text>
<rect x="29.50" y="704.70" width="105.30" height="83.30" fill="#fff" stroke="#8e8e8e" stroke-width="0.7"/>
<path d="M29.50,704.70V788.00H134.80" fill="none" stroke="#686868" stroke-width="0.7"/>
<path d="M29.50,767.17h1.6M29.50,746.35h1.6M29.50,725.53h1.6" stroke="#555" stroke-width="0.6" fill="none"/>
<text x="27.60" y="792.70" font-size="8.0" text-anchor="end" fill="#222">0</text>
<text x="28.30" y="769.70" font-size="8.0" text-anchor="end" fill="#222">5</text>
<text x="28.30" y="747.67" font-size="8.0" text-anchor="end" fill="#222">10</text>
<text x="28.30" y="725.63" font-size="8.0" text-anchor="end" fill="#222">15</text>
<text x="28.30" y="703.60" font-size="8.0" text-anchor="end" fill="#222">20</text>
<rect x="37.50" y="783.80" width="10.50" height="4.30" fill="#000" stroke="none"/>
<rect x="63.80" y="784.30" width="10.50" height="3.80" fill="#000" stroke="none"/>
<rect x="90.00" y="784.30" width="10.50" height="3.80" fill="#000" stroke="none"/>
<rect x="115.80" y="784.00" width="10.50" height="4.10" fill="#000" stroke="none"/>
<text x="42.50" y="795.80" font-size="8.0" text-anchor="middle" fill="#222">0</text>
<text x="70.00" y="795.80" font-size="8.0" text-anchor="middle" fill="#222">50</text>
<text x="95.80" y="795.80" font-size="8.0" text-anchor="middle" fill="#222">100</text>
<text x="122.50" y="795.80" font-size="8.0" text-anchor="middle" fill="#222">200</text>
<text x="26.30" y="804.50" font-size="9.15" fill="#181818">Concentration of NK314 (nM)</text>
<text transform="translate(8.7,525.9) rotate(-90)" font-size="8.3" fill="#222">Relative ratio of apoptotic cells</text>
<text transform="translate(8.8,666.2) rotate(-90)" font-size="8.43" fill="#222">Relative ratio of apoptotic cells</text>
<text transform="translate(8.8,791.3) rotate(-90)" font-size="8.35" fill="#222">Relative ratio of apoptotic cells</text>
</g>
</g>
</svg>
</body></html>
